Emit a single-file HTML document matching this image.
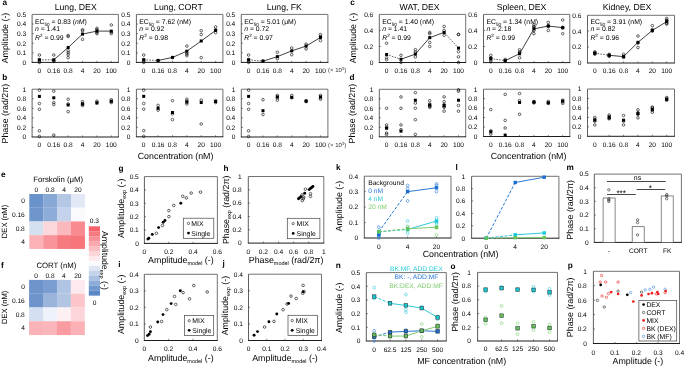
<!DOCTYPE html><html><head><meta charset="utf-8"><style>html,body{margin:0;padding:0;background:#fff;}svg{display:block;will-change:transform;}text{font-family:"Liberation Sans", sans-serif;text-rendering:geometricPrecision;}</style></head><body>
<svg width="685" height="366" viewBox="0 0 685 366">
<rect width="685" height="366" fill="#fff"/>
<line x1="32.10" y1="14.40" x2="118.40" y2="14.40" stroke="#6a6a6a" stroke-width="0.95" />
<line x1="118.40" y1="14.40" x2="118.40" y2="62.40" stroke="#6a6a6a" stroke-width="0.95" />
<line x1="32.10" y1="14.40" x2="32.10" y2="62.40" stroke="#5a5a5a" stroke-width="0.95" />
<line x1="31.65" y1="62.40" x2="118.85" y2="62.40" stroke="#111" stroke-width="0.95" />
<line x1="32.10" y1="52.80" x2="33.70" y2="52.80" stroke="#333" stroke-width="0.6" />
<line x1="32.10" y1="43.20" x2="33.70" y2="43.20" stroke="#333" stroke-width="0.6" />
<line x1="32.10" y1="33.60" x2="33.70" y2="33.60" stroke="#333" stroke-width="0.6" />
<line x1="32.10" y1="24.00" x2="33.70" y2="24.00" stroke="#333" stroke-width="0.6" />
<text x="26.10" y="64.74" font-size="6.6" text-anchor="end" fill="#000" >0</text>
<text x="26.10" y="55.14" font-size="6.6" text-anchor="end" fill="#000" >0.1</text>
<text x="26.10" y="45.54" font-size="6.6" text-anchor="end" fill="#000" >0.2</text>
<text x="26.10" y="35.94" font-size="6.6" text-anchor="end" fill="#000" >0.3</text>
<text x="26.10" y="26.34" font-size="6.6" text-anchor="end" fill="#000" >0.4</text>
<text x="26.10" y="16.74" font-size="6.6" text-anchor="end" fill="#000" >0.5</text>
<line x1="53.78" y1="62.40" x2="53.78" y2="60.80" stroke="#333" stroke-width="0.6" />
<line x1="68.16" y1="62.40" x2="68.16" y2="60.80" stroke="#333" stroke-width="0.6" />
<line x1="82.54" y1="62.40" x2="82.54" y2="60.80" stroke="#333" stroke-width="0.6" />
<line x1="96.92" y1="62.40" x2="96.92" y2="60.80" stroke="#333" stroke-width="0.6" />
<line x1="111.30" y1="62.40" x2="111.30" y2="60.80" stroke="#333" stroke-width="0.6" />
<text x="39.40" y="72.69" font-size="6.6" text-anchor="middle" fill="#000" >0</text>
<text x="53.78" y="72.69" font-size="6.6" text-anchor="middle" fill="#000" >0.16</text>
<text x="68.16" y="72.69" font-size="6.6" text-anchor="middle" fill="#000" >0.8</text>
<text x="82.54" y="72.69" font-size="6.6" text-anchor="middle" fill="#000" >4</text>
<text x="96.92" y="72.69" font-size="6.6" text-anchor="middle" fill="#000" >20</text>
<text x="111.30" y="72.69" font-size="6.6" text-anchor="middle" fill="#000" >100</text>
<text x="75.70" y="9.90" font-size="8.7" text-anchor="middle" fill="#000" >Lung, DEX</text>
<text x="35.00" y="23.6" font-size="6.85">EC<tspan font-size="4.6" dy="2.0">50</tspan><tspan dy="-2.0"> = 0.83 (<tspan font-style="italic">nM</tspan>)</tspan></text>
<text x="35.00" y="31.4" font-size="6.85"><tspan font-style="italic">n</tspan> = 1.41</text>
<text x="35.00" y="39.8" font-size="6.85"><tspan font-style="italic">R</tspan><tspan font-size="4.6" dy="-2.4">2</tspan><tspan dy="2.4"> = 0.99</tspan></text>
<line x1="39.40" y1="59.81" x2="53.78" y2="59.81" stroke="#222" stroke-width="0.7" stroke-dasharray="1.6,1.2" />
<line x1="53.78" y1="59.81" x2="68.16" y2="47.52" stroke="#111" stroke-width="0.8" />
<line x1="68.16" y1="47.52" x2="82.54" y2="34.08" stroke="#111" stroke-width="0.8" />
<line x1="82.54" y1="34.08" x2="96.92" y2="31.10" stroke="#111" stroke-width="0.8" />
<line x1="96.92" y1="31.10" x2="111.30" y2="31.10" stroke="#111" stroke-width="0.8" />
<circle cx="39.40" cy="55.01" r="1.3" fill="none" stroke="#000" stroke-width="0.6"/>
<circle cx="39.40" cy="59.52" r="1.3" fill="none" stroke="#000" stroke-width="0.6"/>
<circle cx="39.40" cy="61.44" r="1.3" fill="none" stroke="#000" stroke-width="0.6"/>
<circle cx="39.40" cy="62.40" r="1.3" fill="none" stroke="#000" stroke-width="0.6"/>
<rect x="37.90" y="58.31" width="3.0" height="3.0" fill="#000"/>
<circle cx="53.78" cy="55.01" r="1.3" fill="none" stroke="#000" stroke-width="0.6"/>
<circle cx="53.78" cy="60.48" r="1.3" fill="none" stroke="#000" stroke-width="0.6"/>
<circle cx="53.78" cy="61.44" r="1.3" fill="none" stroke="#000" stroke-width="0.6"/>
<rect x="52.28" y="58.31" width="3.0" height="3.0" fill="#000"/>
<circle cx="68.16" cy="35.52" r="1.3" fill="none" stroke="#000" stroke-width="0.6"/>
<circle cx="68.16" cy="36.48" r="1.3" fill="none" stroke="#000" stroke-width="0.6"/>
<circle cx="68.16" cy="50.88" r="1.3" fill="none" stroke="#000" stroke-width="0.6"/>
<circle cx="68.16" cy="52.80" r="1.3" fill="none" stroke="#000" stroke-width="0.6"/>
<circle cx="68.16" cy="54.72" r="1.3" fill="none" stroke="#000" stroke-width="0.6"/>
<circle cx="68.16" cy="57.60" r="1.3" fill="none" stroke="#000" stroke-width="0.6"/>
<rect x="66.66" y="46.02" width="3.0" height="3.0" fill="#000"/>
<circle cx="82.54" cy="29.76" r="1.3" fill="none" stroke="#000" stroke-width="0.6"/>
<circle cx="82.54" cy="30.72" r="1.3" fill="none" stroke="#000" stroke-width="0.6"/>
<circle cx="82.54" cy="39.36" r="1.3" fill="none" stroke="#000" stroke-width="0.6"/>
<rect x="81.04" y="32.58" width="3.0" height="3.0" fill="#000"/>
<circle cx="96.92" cy="28.32" r="1.3" fill="none" stroke="#000" stroke-width="0.6"/>
<circle cx="96.92" cy="29.76" r="1.3" fill="none" stroke="#000" stroke-width="0.6"/>
<circle cx="96.92" cy="32.64" r="1.3" fill="none" stroke="#000" stroke-width="0.6"/>
<circle cx="96.92" cy="33.60" r="1.3" fill="none" stroke="#000" stroke-width="0.6"/>
<rect x="95.42" y="29.60" width="3.0" height="3.0" fill="#000"/>
<circle cx="111.30" cy="24.96" r="1.3" fill="none" stroke="#000" stroke-width="0.6"/>
<circle cx="111.30" cy="32.16" r="1.3" fill="none" stroke="#000" stroke-width="0.6"/>
<circle cx="111.30" cy="33.60" r="1.3" fill="none" stroke="#000" stroke-width="0.6"/>
<rect x="109.80" y="29.60" width="3.0" height="3.0" fill="#000"/>
<line x1="136.40" y1="14.40" x2="222.90" y2="14.40" stroke="#6a6a6a" stroke-width="0.95" />
<line x1="222.90" y1="14.40" x2="222.90" y2="62.40" stroke="#6a6a6a" stroke-width="0.95" />
<line x1="136.40" y1="14.40" x2="136.40" y2="62.40" stroke="#5a5a5a" stroke-width="0.95" />
<line x1="135.95" y1="62.40" x2="223.35" y2="62.40" stroke="#111" stroke-width="0.95" />
<line x1="136.40" y1="52.80" x2="138.00" y2="52.80" stroke="#333" stroke-width="0.6" />
<line x1="136.40" y1="43.20" x2="138.00" y2="43.20" stroke="#333" stroke-width="0.6" />
<line x1="136.40" y1="33.60" x2="138.00" y2="33.60" stroke="#333" stroke-width="0.6" />
<line x1="136.40" y1="24.00" x2="138.00" y2="24.00" stroke="#333" stroke-width="0.6" />
<text x="130.40" y="64.74" font-size="6.6" text-anchor="end" fill="#000" >0</text>
<text x="130.40" y="55.14" font-size="6.6" text-anchor="end" fill="#000" >0.1</text>
<text x="130.40" y="45.54" font-size="6.6" text-anchor="end" fill="#000" >0.2</text>
<text x="130.40" y="35.94" font-size="6.6" text-anchor="end" fill="#000" >0.3</text>
<text x="130.40" y="26.34" font-size="6.6" text-anchor="end" fill="#000" >0.4</text>
<text x="130.40" y="16.74" font-size="6.6" text-anchor="end" fill="#000" >0.5</text>
<line x1="158.08" y1="62.40" x2="158.08" y2="60.80" stroke="#333" stroke-width="0.6" />
<line x1="172.46" y1="62.40" x2="172.46" y2="60.80" stroke="#333" stroke-width="0.6" />
<line x1="186.84" y1="62.40" x2="186.84" y2="60.80" stroke="#333" stroke-width="0.6" />
<line x1="201.22" y1="62.40" x2="201.22" y2="60.80" stroke="#333" stroke-width="0.6" />
<line x1="215.60" y1="62.40" x2="215.60" y2="60.80" stroke="#333" stroke-width="0.6" />
<text x="143.70" y="72.69" font-size="6.6" text-anchor="middle" fill="#000" >0</text>
<text x="158.08" y="72.69" font-size="6.6" text-anchor="middle" fill="#000" >0.16</text>
<text x="172.46" y="72.69" font-size="6.6" text-anchor="middle" fill="#000" >0.8</text>
<text x="186.84" y="72.69" font-size="6.6" text-anchor="middle" fill="#000" >4</text>
<text x="201.22" y="72.69" font-size="6.6" text-anchor="middle" fill="#000" >20</text>
<text x="215.60" y="72.69" font-size="6.6" text-anchor="middle" fill="#000" >100</text>
<text x="178.40" y="9.90" font-size="8.7" text-anchor="middle" fill="#000" >Lung, CORT</text>
<text x="139.30" y="23.6" font-size="6.85">EC<tspan font-size="4.6" dy="2.0">50</tspan><tspan dy="-2.0"> = 7.62 (nM)</tspan></text>
<text x="139.30" y="31.4" font-size="6.85"><tspan font-style="italic">n</tspan> = 0.92</text>
<text x="139.30" y="39.8" font-size="6.85"><tspan font-style="italic">R</tspan><tspan font-size="4.6" dy="-2.4">2</tspan><tspan dy="2.4"> = 0.98</tspan></text>
<line x1="143.70" y1="59.81" x2="158.08" y2="60.48" stroke="#222" stroke-width="0.7" stroke-dasharray="1.6,1.2" />
<line x1="158.08" y1="60.48" x2="172.46" y2="57.41" stroke="#111" stroke-width="0.8" />
<line x1="172.46" y1="57.41" x2="186.84" y2="51.17" stroke="#111" stroke-width="0.8" />
<line x1="186.84" y1="51.17" x2="201.22" y2="40.99" stroke="#111" stroke-width="0.8" />
<line x1="201.22" y1="40.99" x2="215.60" y2="30.43" stroke="#111" stroke-width="0.8" />
<circle cx="143.70" cy="55.01" r="1.3" fill="none" stroke="#000" stroke-width="0.6"/>
<circle cx="143.70" cy="59.52" r="1.3" fill="none" stroke="#000" stroke-width="0.6"/>
<circle cx="143.70" cy="61.44" r="1.3" fill="none" stroke="#000" stroke-width="0.6"/>
<circle cx="143.70" cy="62.40" r="1.3" fill="none" stroke="#000" stroke-width="0.6"/>
<rect x="142.20" y="58.31" width="3.0" height="3.0" fill="#000"/>
<circle cx="158.08" cy="60.48" r="1.3" fill="none" stroke="#000" stroke-width="0.6"/>
<rect x="156.58" y="58.98" width="3.0" height="3.0" fill="#000"/>
<circle cx="172.46" cy="57.60" r="1.3" fill="none" stroke="#000" stroke-width="0.6"/>
<rect x="170.96" y="55.91" width="3.0" height="3.0" fill="#000"/>
<circle cx="186.84" cy="46.08" r="1.3" fill="none" stroke="#000" stroke-width="0.6"/>
<circle cx="186.84" cy="52.80" r="1.3" fill="none" stroke="#000" stroke-width="0.6"/>
<circle cx="186.84" cy="54.24" r="1.3" fill="none" stroke="#000" stroke-width="0.6"/>
<circle cx="186.84" cy="55.68" r="1.3" fill="none" stroke="#000" stroke-width="0.6"/>
<rect x="185.34" y="49.67" width="3.0" height="3.0" fill="#000"/>
<circle cx="201.22" cy="30.72" r="1.3" fill="none" stroke="#000" stroke-width="0.6"/>
<circle cx="201.22" cy="34.56" r="1.3" fill="none" stroke="#000" stroke-width="0.6"/>
<circle cx="201.22" cy="57.60" r="1.3" fill="none" stroke="#000" stroke-width="0.6"/>
<rect x="199.72" y="39.49" width="3.0" height="3.0" fill="#000"/>
<circle cx="215.60" cy="26.88" r="1.3" fill="none" stroke="#000" stroke-width="0.6"/>
<circle cx="215.60" cy="29.76" r="1.3" fill="none" stroke="#000" stroke-width="0.6"/>
<circle cx="215.60" cy="32.64" r="1.3" fill="none" stroke="#000" stroke-width="0.6"/>
<rect x="214.10" y="28.93" width="3.0" height="3.0" fill="#000"/>
<line x1="241.30" y1="14.40" x2="327.90" y2="14.40" stroke="#6a6a6a" stroke-width="0.95" />
<line x1="327.90" y1="14.40" x2="327.90" y2="62.40" stroke="#6a6a6a" stroke-width="0.95" />
<line x1="241.30" y1="14.40" x2="241.30" y2="62.40" stroke="#5a5a5a" stroke-width="0.95" />
<line x1="240.85" y1="62.40" x2="328.35" y2="62.40" stroke="#111" stroke-width="0.95" />
<line x1="241.30" y1="52.80" x2="242.90" y2="52.80" stroke="#333" stroke-width="0.6" />
<line x1="241.30" y1="43.20" x2="242.90" y2="43.20" stroke="#333" stroke-width="0.6" />
<line x1="241.30" y1="33.60" x2="242.90" y2="33.60" stroke="#333" stroke-width="0.6" />
<line x1="241.30" y1="24.00" x2="242.90" y2="24.00" stroke="#333" stroke-width="0.6" />
<text x="235.30" y="64.74" font-size="6.6" text-anchor="end" fill="#000" >0</text>
<text x="235.30" y="55.14" font-size="6.6" text-anchor="end" fill="#000" >0.1</text>
<text x="235.30" y="45.54" font-size="6.6" text-anchor="end" fill="#000" >0.2</text>
<text x="235.30" y="35.94" font-size="6.6" text-anchor="end" fill="#000" >0.3</text>
<text x="235.30" y="26.34" font-size="6.6" text-anchor="end" fill="#000" >0.4</text>
<text x="235.30" y="16.74" font-size="6.6" text-anchor="end" fill="#000" >0.5</text>
<line x1="262.98" y1="62.40" x2="262.98" y2="60.80" stroke="#333" stroke-width="0.6" />
<line x1="277.36" y1="62.40" x2="277.36" y2="60.80" stroke="#333" stroke-width="0.6" />
<line x1="291.74" y1="62.40" x2="291.74" y2="60.80" stroke="#333" stroke-width="0.6" />
<line x1="306.12" y1="62.40" x2="306.12" y2="60.80" stroke="#333" stroke-width="0.6" />
<line x1="320.50" y1="62.40" x2="320.50" y2="60.80" stroke="#333" stroke-width="0.6" />
<text x="248.60" y="72.69" font-size="6.6" text-anchor="middle" fill="#000" >0</text>
<text x="262.98" y="72.69" font-size="6.6" text-anchor="middle" fill="#000" >0.16</text>
<text x="277.36" y="72.69" font-size="6.6" text-anchor="middle" fill="#000" >0.8</text>
<text x="291.74" y="72.69" font-size="6.6" text-anchor="middle" fill="#000" >4</text>
<text x="306.12" y="72.69" font-size="6.6" text-anchor="middle" fill="#000" >20</text>
<text x="320.50" y="72.69" font-size="6.6" text-anchor="middle" fill="#000" >100</text>
<text x="284.30" y="9.90" font-size="8.7" text-anchor="middle" fill="#000" >Lung, FK</text>
<text x="244.20" y="23.6" font-size="6.85">EC<tspan font-size="4.6" dy="2.0">50</tspan><tspan dy="-2.0"> = 5.01 (&#956;M)</tspan></text>
<text x="244.20" y="31.4" font-size="6.85"><tspan font-style="italic">n</tspan> = 0.72</text>
<text x="244.20" y="39.8" font-size="6.85"><tspan font-style="italic">R</tspan><tspan font-size="4.6" dy="-2.4">2</tspan><tspan dy="2.4"> = 0.97</tspan></text>
<line x1="248.60" y1="59.81" x2="262.98" y2="61.15" stroke="#222" stroke-width="0.7" stroke-dasharray="1.6,1.2" />
<line x1="262.98" y1="61.15" x2="277.36" y2="56.64" stroke="#111" stroke-width="0.8" />
<line x1="277.36" y1="56.64" x2="291.74" y2="50.88" stroke="#111" stroke-width="0.8" />
<line x1="291.74" y1="50.88" x2="306.12" y2="46.08" stroke="#111" stroke-width="0.8" />
<line x1="306.12" y1="46.08" x2="320.50" y2="37.44" stroke="#111" stroke-width="0.8" />
<circle cx="248.60" cy="55.01" r="1.3" fill="none" stroke="#000" stroke-width="0.6"/>
<circle cx="248.60" cy="59.52" r="1.3" fill="none" stroke="#000" stroke-width="0.6"/>
<circle cx="248.60" cy="61.44" r="1.3" fill="none" stroke="#000" stroke-width="0.6"/>
<circle cx="248.60" cy="62.40" r="1.3" fill="none" stroke="#000" stroke-width="0.6"/>
<rect x="247.10" y="58.31" width="3.0" height="3.0" fill="#000"/>
<circle cx="262.98" cy="60.96" r="1.3" fill="none" stroke="#000" stroke-width="0.6"/>
<rect x="261.48" y="59.65" width="3.0" height="3.0" fill="#000"/>
<circle cx="277.36" cy="52.32" r="1.3" fill="none" stroke="#000" stroke-width="0.6"/>
<circle cx="277.36" cy="58.56" r="1.3" fill="none" stroke="#000" stroke-width="0.6"/>
<rect x="275.86" y="55.14" width="3.0" height="3.0" fill="#000"/>
<circle cx="291.74" cy="48.00" r="1.3" fill="none" stroke="#000" stroke-width="0.6"/>
<circle cx="291.74" cy="54.72" r="1.3" fill="none" stroke="#000" stroke-width="0.6"/>
<rect x="290.24" y="49.38" width="3.0" height="3.0" fill="#000"/>
<circle cx="306.12" cy="44.16" r="1.3" fill="none" stroke="#000" stroke-width="0.6"/>
<circle cx="306.12" cy="48.96" r="1.3" fill="none" stroke="#000" stroke-width="0.6"/>
<rect x="304.62" y="44.58" width="3.0" height="3.0" fill="#000"/>
<circle cx="320.50" cy="34.56" r="1.3" fill="none" stroke="#000" stroke-width="0.6"/>
<circle cx="320.50" cy="36.48" r="1.3" fill="none" stroke="#000" stroke-width="0.6"/>
<circle cx="320.50" cy="40.61" r="1.3" fill="none" stroke="#000" stroke-width="0.6"/>
<rect x="319.00" y="35.94" width="3.0" height="3.0" fill="#000"/>
<line x1="379.30" y1="14.40" x2="465.70" y2="14.40" stroke="#6a6a6a" stroke-width="0.95" />
<line x1="465.70" y1="14.40" x2="465.70" y2="62.50" stroke="#6a6a6a" stroke-width="0.95" />
<line x1="379.30" y1="14.40" x2="379.30" y2="62.50" stroke="#5a5a5a" stroke-width="0.95" />
<line x1="378.85" y1="62.50" x2="466.15" y2="62.50" stroke="#111" stroke-width="0.95" />
<line x1="379.30" y1="46.47" x2="380.90" y2="46.47" stroke="#333" stroke-width="0.6" />
<line x1="379.30" y1="30.43" x2="380.90" y2="30.43" stroke="#333" stroke-width="0.6" />
<text x="373.30" y="64.84" font-size="6.6" text-anchor="end" fill="#000" >0</text>
<text x="373.30" y="48.81" font-size="6.6" text-anchor="end" fill="#000" >0.2</text>
<text x="373.30" y="32.78" font-size="6.6" text-anchor="end" fill="#000" >0.4</text>
<text x="373.30" y="16.74" font-size="6.6" text-anchor="end" fill="#000" >0.6</text>
<line x1="400.98" y1="62.50" x2="400.98" y2="60.90" stroke="#333" stroke-width="0.6" />
<line x1="415.36" y1="62.50" x2="415.36" y2="60.90" stroke="#333" stroke-width="0.6" />
<line x1="429.74" y1="62.50" x2="429.74" y2="60.90" stroke="#333" stroke-width="0.6" />
<line x1="444.12" y1="62.50" x2="444.12" y2="60.90" stroke="#333" stroke-width="0.6" />
<line x1="458.50" y1="62.50" x2="458.50" y2="60.90" stroke="#333" stroke-width="0.6" />
<text x="386.60" y="72.79" font-size="6.6" text-anchor="middle" fill="#000" >0</text>
<text x="400.98" y="72.79" font-size="6.6" text-anchor="middle" fill="#000" >0.16</text>
<text x="415.36" y="72.79" font-size="6.6" text-anchor="middle" fill="#000" >0.8</text>
<text x="429.74" y="72.79" font-size="6.6" text-anchor="middle" fill="#000" >4</text>
<text x="444.12" y="72.79" font-size="6.6" text-anchor="middle" fill="#000" >20</text>
<text x="458.50" y="72.79" font-size="6.6" text-anchor="middle" fill="#000" >100</text>
<text x="419.60" y="9.90" font-size="8.7" text-anchor="middle" fill="#000" >WAT, DEX</text>
<text x="382.20" y="23.6" font-size="6.85">EC<tspan font-size="4.6" dy="2.0">50</tspan><tspan dy="-2.0"> = 1.40 (nM)</tspan></text>
<text x="382.20" y="31.4" font-size="6.85"><tspan font-style="italic">n</tspan> = 1.41</text>
<text x="382.20" y="39.8" font-size="6.85"><tspan font-style="italic">R</tspan><tspan font-size="4.6" dy="-2.4">2</tspan><tspan dy="2.4"> = 0.99</tspan></text>
<line x1="386.60" y1="54.48" x2="400.98" y2="59.29" stroke="#222" stroke-width="0.7" stroke-dasharray="1.6,1.2" />
<line x1="400.98" y1="59.29" x2="415.36" y2="54.08" stroke="#111" stroke-width="0.8" />
<line x1="415.36" y1="54.08" x2="429.74" y2="37.65" stroke="#111" stroke-width="0.8" />
<line x1="429.74" y1="37.65" x2="444.12" y2="32.44" stroke="#111" stroke-width="0.8" />
<line x1="444.12" y1="32.44" x2="458.50" y2="48.07" stroke="#222" stroke-width="0.7" stroke-dasharray="1.6,1.2" />
<circle cx="386.60" cy="43.26" r="1.3" fill="none" stroke="#000" stroke-width="0.6"/>
<circle cx="386.60" cy="57.69" r="1.3" fill="none" stroke="#000" stroke-width="0.6"/>
<circle cx="386.60" cy="59.69" r="1.3" fill="none" stroke="#000" stroke-width="0.6"/>
<rect x="385.10" y="52.98" width="3.0" height="3.0" fill="#000"/>
<circle cx="400.98" cy="55.28" r="1.3" fill="none" stroke="#000" stroke-width="0.6"/>
<circle cx="400.98" cy="62.50" r="1.3" fill="none" stroke="#000" stroke-width="0.6"/>
<rect x="399.48" y="57.79" width="3.0" height="3.0" fill="#000"/>
<circle cx="415.36" cy="49.67" r="1.3" fill="none" stroke="#000" stroke-width="0.6"/>
<circle cx="415.36" cy="52.08" r="1.3" fill="none" stroke="#000" stroke-width="0.6"/>
<circle cx="415.36" cy="56.89" r="1.3" fill="none" stroke="#000" stroke-width="0.6"/>
<rect x="413.86" y="52.58" width="3.0" height="3.0" fill="#000"/>
<circle cx="429.74" cy="32.44" r="1.3" fill="none" stroke="#000" stroke-width="0.6"/>
<circle cx="429.74" cy="33.64" r="1.3" fill="none" stroke="#000" stroke-width="0.6"/>
<circle cx="429.74" cy="42.46" r="1.3" fill="none" stroke="#000" stroke-width="0.6"/>
<circle cx="429.74" cy="46.47" r="1.3" fill="none" stroke="#000" stroke-width="0.6"/>
<rect x="428.24" y="36.15" width="3.0" height="3.0" fill="#000"/>
<circle cx="444.12" cy="26.42" r="1.3" fill="none" stroke="#000" stroke-width="0.6"/>
<circle cx="444.12" cy="30.43" r="1.3" fill="none" stroke="#000" stroke-width="0.6"/>
<circle cx="444.12" cy="35.24" r="1.3" fill="none" stroke="#000" stroke-width="0.6"/>
<rect x="442.62" y="30.94" width="3.0" height="3.0" fill="#000"/>
<circle cx="458.50" cy="34.44" r="1.3" fill="none" stroke="#000" stroke-width="0.6"/>
<circle cx="458.50" cy="34.44" r="1.3" fill="none" stroke="#000" stroke-width="0.6"/>
<circle cx="458.50" cy="51.68" r="1.3" fill="none" stroke="#000" stroke-width="0.6"/>
<circle cx="458.50" cy="56.89" r="1.3" fill="none" stroke="#000" stroke-width="0.6"/>
<circle cx="458.50" cy="62.50" r="1.3" fill="none" stroke="#000" stroke-width="0.6"/>
<rect x="457.00" y="46.57" width="3.0" height="3.0" fill="#000"/>
<line x1="483.50" y1="14.40" x2="569.80" y2="14.40" stroke="#6a6a6a" stroke-width="0.95" />
<line x1="569.80" y1="14.40" x2="569.80" y2="62.60" stroke="#6a6a6a" stroke-width="0.95" />
<line x1="483.50" y1="14.40" x2="483.50" y2="62.60" stroke="#5a5a5a" stroke-width="0.95" />
<line x1="483.05" y1="62.60" x2="570.25" y2="62.60" stroke="#111" stroke-width="0.95" />
<line x1="483.50" y1="46.53" x2="485.10" y2="46.53" stroke="#333" stroke-width="0.6" />
<line x1="483.50" y1="30.47" x2="485.10" y2="30.47" stroke="#333" stroke-width="0.6" />
<text x="477.50" y="64.94" font-size="6.6" text-anchor="end" fill="#000" >0</text>
<text x="477.50" y="48.88" font-size="6.6" text-anchor="end" fill="#000" >0.2</text>
<text x="477.50" y="32.81" font-size="6.6" text-anchor="end" fill="#000" >0.4</text>
<text x="477.50" y="16.74" font-size="6.6" text-anchor="end" fill="#000" >0.6</text>
<line x1="505.18" y1="62.60" x2="505.18" y2="61.00" stroke="#333" stroke-width="0.6" />
<line x1="519.56" y1="62.60" x2="519.56" y2="61.00" stroke="#333" stroke-width="0.6" />
<line x1="533.94" y1="62.60" x2="533.94" y2="61.00" stroke="#333" stroke-width="0.6" />
<line x1="548.32" y1="62.60" x2="548.32" y2="61.00" stroke="#333" stroke-width="0.6" />
<line x1="562.70" y1="62.60" x2="562.70" y2="61.00" stroke="#333" stroke-width="0.6" />
<text x="490.80" y="72.89" font-size="6.6" text-anchor="middle" fill="#000" >0</text>
<text x="505.18" y="72.89" font-size="6.6" text-anchor="middle" fill="#000" >0.16</text>
<text x="519.56" y="72.89" font-size="6.6" text-anchor="middle" fill="#000" >0.8</text>
<text x="533.94" y="72.89" font-size="6.6" text-anchor="middle" fill="#000" >4</text>
<text x="548.32" y="72.89" font-size="6.6" text-anchor="middle" fill="#000" >20</text>
<text x="562.70" y="72.89" font-size="6.6" text-anchor="middle" fill="#000" >100</text>
<text x="521.50" y="9.90" font-size="8.7" text-anchor="middle" fill="#000" >Spleen, DEX</text>
<text x="486.40" y="23.6" font-size="6.85">EC<tspan font-size="4.6" dy="2.0">50</tspan><tspan dy="-2.0"> = 1.34 (nM)</tspan></text>
<text x="486.40" y="31.4" font-size="6.85"><tspan font-style="italic">n</tspan> = 2.18</text>
<text x="486.40" y="39.8" font-size="6.85"><tspan font-style="italic">R</tspan><tspan font-size="4.6" dy="-2.4">2</tspan><tspan dy="2.4"> = 0.99</tspan></text>
<line x1="490.80" y1="58.58" x2="505.18" y2="60.59" stroke="#222" stroke-width="0.7" stroke-dasharray="1.6,1.2" />
<line x1="505.18" y1="60.59" x2="519.56" y2="53.76" stroke="#111" stroke-width="0.8" />
<line x1="519.56" y1="53.76" x2="533.94" y2="28.86" stroke="#111" stroke-width="0.8" />
<line x1="533.94" y1="28.86" x2="548.32" y2="26.05" stroke="#111" stroke-width="0.8" />
<line x1="548.32" y1="26.05" x2="562.70" y2="27.66" stroke="#111" stroke-width="0.8" />
<circle cx="490.80" cy="55.37" r="1.3" fill="none" stroke="#000" stroke-width="0.6"/>
<circle cx="490.80" cy="60.19" r="1.3" fill="none" stroke="#000" stroke-width="0.6"/>
<circle cx="490.80" cy="61.80" r="1.3" fill="none" stroke="#000" stroke-width="0.6"/>
<circle cx="490.80" cy="57.78" r="1.3" fill="none" stroke="#000" stroke-width="0.6"/>
<rect x="489.30" y="57.08" width="3.0" height="3.0" fill="#000"/>
<circle cx="505.18" cy="59.39" r="1.3" fill="none" stroke="#000" stroke-width="0.6"/>
<circle cx="505.18" cy="60.99" r="1.3" fill="none" stroke="#000" stroke-width="0.6"/>
<rect x="503.68" y="59.09" width="3.0" height="3.0" fill="#000"/>
<circle cx="519.56" cy="49.75" r="1.3" fill="none" stroke="#000" stroke-width="0.6"/>
<circle cx="519.56" cy="52.16" r="1.3" fill="none" stroke="#000" stroke-width="0.6"/>
<circle cx="519.56" cy="57.78" r="1.3" fill="none" stroke="#000" stroke-width="0.6"/>
<circle cx="519.56" cy="52.96" r="1.3" fill="none" stroke="#000" stroke-width="0.6"/>
<rect x="518.06" y="52.26" width="3.0" height="3.0" fill="#000"/>
<circle cx="533.94" cy="24.84" r="1.3" fill="none" stroke="#000" stroke-width="0.6"/>
<circle cx="533.94" cy="26.45" r="1.3" fill="none" stroke="#000" stroke-width="0.6"/>
<circle cx="533.94" cy="33.68" r="1.3" fill="none" stroke="#000" stroke-width="0.6"/>
<circle cx="533.94" cy="27.25" r="1.3" fill="none" stroke="#000" stroke-width="0.6"/>
<circle cx="533.94" cy="30.47" r="1.3" fill="none" stroke="#000" stroke-width="0.6"/>
<rect x="532.44" y="27.36" width="3.0" height="3.0" fill="#000"/>
<circle cx="548.32" cy="22.43" r="1.3" fill="none" stroke="#000" stroke-width="0.6"/>
<circle cx="548.32" cy="30.47" r="1.3" fill="none" stroke="#000" stroke-width="0.6"/>
<circle cx="548.32" cy="25.65" r="1.3" fill="none" stroke="#000" stroke-width="0.6"/>
<circle cx="548.32" cy="26.45" r="1.3" fill="none" stroke="#000" stroke-width="0.6"/>
<rect x="546.82" y="24.55" width="3.0" height="3.0" fill="#000"/>
<circle cx="562.70" cy="20.02" r="1.3" fill="none" stroke="#000" stroke-width="0.6"/>
<circle cx="562.70" cy="33.68" r="1.3" fill="none" stroke="#000" stroke-width="0.6"/>
<circle cx="562.70" cy="27.25" r="1.3" fill="none" stroke="#000" stroke-width="0.6"/>
<circle cx="562.70" cy="28.06" r="1.3" fill="none" stroke="#000" stroke-width="0.6"/>
<rect x="561.20" y="26.16" width="3.0" height="3.0" fill="#000"/>
<line x1="587.50" y1="15.30" x2="674.50" y2="15.30" stroke="#6a6a6a" stroke-width="0.95" />
<line x1="674.50" y1="15.30" x2="674.50" y2="63.00" stroke="#6a6a6a" stroke-width="0.95" />
<line x1="587.50" y1="15.30" x2="587.50" y2="63.00" stroke="#5a5a5a" stroke-width="0.95" />
<line x1="587.05" y1="63.00" x2="674.95" y2="63.00" stroke="#111" stroke-width="0.95" />
<line x1="587.50" y1="47.10" x2="589.10" y2="47.10" stroke="#333" stroke-width="0.6" />
<line x1="587.50" y1="31.20" x2="589.10" y2="31.20" stroke="#333" stroke-width="0.6" />
<text x="581.50" y="65.34" font-size="6.6" text-anchor="end" fill="#000" >0</text>
<text x="581.50" y="49.44" font-size="6.6" text-anchor="end" fill="#000" >0.2</text>
<text x="581.50" y="33.54" font-size="6.6" text-anchor="end" fill="#000" >0.4</text>
<text x="581.50" y="17.64" font-size="6.6" text-anchor="end" fill="#000" >0.6</text>
<line x1="609.18" y1="63.00" x2="609.18" y2="61.40" stroke="#333" stroke-width="0.6" />
<line x1="623.56" y1="63.00" x2="623.56" y2="61.40" stroke="#333" stroke-width="0.6" />
<line x1="637.94" y1="63.00" x2="637.94" y2="61.40" stroke="#333" stroke-width="0.6" />
<line x1="652.32" y1="63.00" x2="652.32" y2="61.40" stroke="#333" stroke-width="0.6" />
<line x1="666.70" y1="63.00" x2="666.70" y2="61.40" stroke="#333" stroke-width="0.6" />
<text x="594.80" y="73.29" font-size="6.6" text-anchor="middle" fill="#000" >0</text>
<text x="609.18" y="73.29" font-size="6.6" text-anchor="middle" fill="#000" >0.16</text>
<text x="623.56" y="73.29" font-size="6.6" text-anchor="middle" fill="#000" >0.8</text>
<text x="637.94" y="73.29" font-size="6.6" text-anchor="middle" fill="#000" >4</text>
<text x="652.32" y="73.29" font-size="6.6" text-anchor="middle" fill="#000" >20</text>
<text x="666.70" y="73.29" font-size="6.6" text-anchor="middle" fill="#000" >100</text>
<text x="627.00" y="9.90" font-size="8.7" text-anchor="middle" fill="#000" >Kidney, DEX</text>
<text x="590.40" y="23.6" font-size="6.85">EC<tspan font-size="4.6" dy="2.0">50</tspan><tspan dy="-2.0"> = 3.91 (nM)</tspan></text>
<text x="590.40" y="31.4" font-size="6.85"><tspan font-style="italic">n</tspan> = 0.82</text>
<text x="590.40" y="39.8" font-size="6.85"><tspan font-style="italic">R</tspan><tspan font-size="4.6" dy="-2.4">2</tspan><tspan dy="2.4"> = 0.96</tspan></text>
<line x1="594.80" y1="53.22" x2="609.18" y2="55.29" stroke="#222" stroke-width="0.7" stroke-dasharray="1.6,1.2" />
<line x1="609.18" y1="55.29" x2="623.56" y2="56.64" stroke="#111" stroke-width="0.8" />
<line x1="623.56" y1="56.64" x2="637.94" y2="42.33" stroke="#111" stroke-width="0.8" />
<line x1="637.94" y1="42.33" x2="652.32" y2="30.40" stroke="#111" stroke-width="0.8" />
<line x1="652.32" y1="30.40" x2="666.70" y2="21.66" stroke="#111" stroke-width="0.8" />
<circle cx="594.80" cy="51.87" r="1.3" fill="none" stroke="#000" stroke-width="0.6"/>
<circle cx="594.80" cy="54.25" r="1.3" fill="none" stroke="#000" stroke-width="0.6"/>
<circle cx="594.80" cy="52.66" r="1.3" fill="none" stroke="#000" stroke-width="0.6"/>
<circle cx="594.80" cy="53.46" r="1.3" fill="none" stroke="#000" stroke-width="0.6"/>
<rect x="593.30" y="51.72" width="3.0" height="3.0" fill="#000"/>
<circle cx="609.18" cy="54.25" r="1.3" fill="none" stroke="#000" stroke-width="0.6"/>
<circle cx="609.18" cy="56.24" r="1.3" fill="none" stroke="#000" stroke-width="0.6"/>
<circle cx="609.18" cy="55.84" r="1.3" fill="none" stroke="#000" stroke-width="0.6"/>
<circle cx="609.18" cy="55.05" r="1.3" fill="none" stroke="#000" stroke-width="0.6"/>
<rect x="607.68" y="53.79" width="3.0" height="3.0" fill="#000"/>
<circle cx="623.56" cy="54.25" r="1.3" fill="none" stroke="#000" stroke-width="0.6"/>
<circle cx="623.56" cy="57.44" r="1.3" fill="none" stroke="#000" stroke-width="0.6"/>
<circle cx="623.56" cy="56.24" r="1.3" fill="none" stroke="#000" stroke-width="0.6"/>
<rect x="622.06" y="55.14" width="3.0" height="3.0" fill="#000"/>
<circle cx="637.94" cy="35.97" r="1.3" fill="none" stroke="#000" stroke-width="0.6"/>
<circle cx="637.94" cy="47.50" r="1.3" fill="none" stroke="#000" stroke-width="0.6"/>
<circle cx="637.94" cy="43.12" r="1.3" fill="none" stroke="#000" stroke-width="0.6"/>
<rect x="636.44" y="40.83" width="3.0" height="3.0" fill="#000"/>
<circle cx="652.32" cy="25.63" r="1.3" fill="none" stroke="#000" stroke-width="0.6"/>
<circle cx="652.32" cy="31.20" r="1.3" fill="none" stroke="#000" stroke-width="0.6"/>
<circle cx="652.32" cy="29.61" r="1.3" fill="none" stroke="#000" stroke-width="0.6"/>
<rect x="650.82" y="28.90" width="3.0" height="3.0" fill="#000"/>
<circle cx="666.70" cy="18.48" r="1.3" fill="none" stroke="#000" stroke-width="0.6"/>
<circle cx="666.70" cy="20.86" r="1.3" fill="none" stroke="#000" stroke-width="0.6"/>
<circle cx="666.70" cy="24.05" r="1.3" fill="none" stroke="#000" stroke-width="0.6"/>
<circle cx="666.70" cy="23.25" r="1.3" fill="none" stroke="#000" stroke-width="0.6"/>
<circle cx="666.70" cy="20.07" r="1.3" fill="none" stroke="#000" stroke-width="0.6"/>
<rect x="665.20" y="20.16" width="3.0" height="3.0" fill="#000"/>
<line x1="32.10" y1="89.20" x2="118.40" y2="89.20" stroke="#6a6a6a" stroke-width="0.95" />
<line x1="118.40" y1="89.20" x2="118.40" y2="137.00" stroke="#6a6a6a" stroke-width="0.95" />
<line x1="32.10" y1="89.20" x2="32.10" y2="137.00" stroke="#5a5a5a" stroke-width="0.95" />
<line x1="31.65" y1="137.00" x2="118.85" y2="137.00" stroke="#111" stroke-width="0.95" />
<line x1="32.10" y1="127.44" x2="33.70" y2="127.44" stroke="#333" stroke-width="0.6" />
<line x1="32.10" y1="117.88" x2="33.70" y2="117.88" stroke="#333" stroke-width="0.6" />
<line x1="32.10" y1="108.32" x2="33.70" y2="108.32" stroke="#333" stroke-width="0.6" />
<line x1="32.10" y1="98.76" x2="33.70" y2="98.76" stroke="#333" stroke-width="0.6" />
<text x="26.10" y="139.34" font-size="6.6" text-anchor="end" fill="#000" >0</text>
<text x="26.10" y="129.78" font-size="6.6" text-anchor="end" fill="#000" >0.2</text>
<text x="26.10" y="120.22" font-size="6.6" text-anchor="end" fill="#000" >0.4</text>
<text x="26.10" y="110.66" font-size="6.6" text-anchor="end" fill="#000" >0.6</text>
<text x="26.10" y="101.10" font-size="6.6" text-anchor="end" fill="#000" >0.8</text>
<text x="26.10" y="91.54" font-size="6.6" text-anchor="end" fill="#000" >1</text>
<line x1="53.78" y1="137.00" x2="53.78" y2="135.40" stroke="#333" stroke-width="0.6" />
<line x1="68.16" y1="137.00" x2="68.16" y2="135.40" stroke="#333" stroke-width="0.6" />
<line x1="82.54" y1="137.00" x2="82.54" y2="135.40" stroke="#333" stroke-width="0.6" />
<line x1="96.92" y1="137.00" x2="96.92" y2="135.40" stroke="#333" stroke-width="0.6" />
<line x1="111.30" y1="137.00" x2="111.30" y2="135.40" stroke="#333" stroke-width="0.6" />
<text x="39.40" y="147.29" font-size="6.6" text-anchor="middle" fill="#000" >0</text>
<text x="53.78" y="147.29" font-size="6.6" text-anchor="middle" fill="#000" >0.16</text>
<text x="68.16" y="147.29" font-size="6.6" text-anchor="middle" fill="#000" >0.8</text>
<text x="82.54" y="147.29" font-size="6.6" text-anchor="middle" fill="#000" >4</text>
<text x="96.92" y="147.29" font-size="6.6" text-anchor="middle" fill="#000" >20</text>
<text x="111.30" y="147.29" font-size="6.6" text-anchor="middle" fill="#000" >100</text>
<circle cx="39.40" cy="90.16" r="1.3" fill="none" stroke="#000" stroke-width="0.6"/>
<circle cx="39.40" cy="103.54" r="1.3" fill="none" stroke="#000" stroke-width="0.6"/>
<circle cx="39.40" cy="109.28" r="1.3" fill="none" stroke="#000" stroke-width="0.6"/>
<circle cx="39.40" cy="130.79" r="1.3" fill="none" stroke="#000" stroke-width="0.6"/>
<circle cx="39.40" cy="136.52" r="1.3" fill="none" stroke="#000" stroke-width="0.6"/>
<rect x="37.90" y="94.87" width="3.0" height="3.0" fill="#000"/>
<circle cx="53.78" cy="91.11" r="1.3" fill="none" stroke="#000" stroke-width="0.6"/>
<circle cx="53.78" cy="102.58" r="1.3" fill="none" stroke="#000" stroke-width="0.6"/>
<circle cx="53.78" cy="104.50" r="1.3" fill="none" stroke="#000" stroke-width="0.6"/>
<circle cx="53.78" cy="135.09" r="1.3" fill="none" stroke="#000" stroke-width="0.6"/>
<rect x="52.28" y="96.30" width="3.0" height="3.0" fill="#000"/>
<circle cx="68.16" cy="99.24" r="1.3" fill="none" stroke="#000" stroke-width="0.6"/>
<circle cx="68.16" cy="104.02" r="1.3" fill="none" stroke="#000" stroke-width="0.6"/>
<circle cx="68.16" cy="111.67" r="1.3" fill="none" stroke="#000" stroke-width="0.6"/>
<rect x="66.66" y="103.47" width="3.0" height="3.0" fill="#000"/>
<circle cx="82.54" cy="101.63" r="1.3" fill="none" stroke="#000" stroke-width="0.6"/>
<circle cx="82.54" cy="103.54" r="1.3" fill="none" stroke="#000" stroke-width="0.6"/>
<circle cx="82.54" cy="104.50" r="1.3" fill="none" stroke="#000" stroke-width="0.6"/>
<circle cx="82.54" cy="105.45" r="1.3" fill="none" stroke="#000" stroke-width="0.6"/>
<rect x="81.04" y="102.52" width="3.0" height="3.0" fill="#000"/>
<circle cx="96.92" cy="101.15" r="1.3" fill="none" stroke="#000" stroke-width="0.6"/>
<circle cx="96.92" cy="102.58" r="1.3" fill="none" stroke="#000" stroke-width="0.6"/>
<rect x="95.42" y="101.56" width="3.0" height="3.0" fill="#000"/>
<circle cx="111.30" cy="99.72" r="1.3" fill="none" stroke="#000" stroke-width="0.6"/>
<circle cx="111.30" cy="102.58" r="1.3" fill="none" stroke="#000" stroke-width="0.6"/>
<circle cx="111.30" cy="101.63" r="1.3" fill="none" stroke="#000" stroke-width="0.6"/>
<rect x="109.80" y="99.65" width="3.0" height="3.0" fill="#000"/>
<line x1="136.40" y1="89.20" x2="222.90" y2="89.20" stroke="#6a6a6a" stroke-width="0.95" />
<line x1="222.90" y1="89.20" x2="222.90" y2="136.80" stroke="#6a6a6a" stroke-width="0.95" />
<line x1="136.40" y1="89.20" x2="136.40" y2="136.80" stroke="#5a5a5a" stroke-width="0.95" />
<line x1="135.95" y1="136.80" x2="223.35" y2="136.80" stroke="#111" stroke-width="0.95" />
<line x1="136.40" y1="127.28" x2="138.00" y2="127.28" stroke="#333" stroke-width="0.6" />
<line x1="136.40" y1="117.76" x2="138.00" y2="117.76" stroke="#333" stroke-width="0.6" />
<line x1="136.40" y1="108.24" x2="138.00" y2="108.24" stroke="#333" stroke-width="0.6" />
<line x1="136.40" y1="98.72" x2="138.00" y2="98.72" stroke="#333" stroke-width="0.6" />
<text x="130.40" y="139.14" font-size="6.6" text-anchor="end" fill="#000" >0</text>
<text x="130.40" y="129.62" font-size="6.6" text-anchor="end" fill="#000" >0.2</text>
<text x="130.40" y="120.10" font-size="6.6" text-anchor="end" fill="#000" >0.4</text>
<text x="130.40" y="110.58" font-size="6.6" text-anchor="end" fill="#000" >0.6</text>
<text x="130.40" y="101.06" font-size="6.6" text-anchor="end" fill="#000" >0.8</text>
<text x="130.40" y="91.54" font-size="6.6" text-anchor="end" fill="#000" >1</text>
<line x1="158.08" y1="136.80" x2="158.08" y2="135.20" stroke="#333" stroke-width="0.6" />
<line x1="172.46" y1="136.80" x2="172.46" y2="135.20" stroke="#333" stroke-width="0.6" />
<line x1="186.84" y1="136.80" x2="186.84" y2="135.20" stroke="#333" stroke-width="0.6" />
<line x1="201.22" y1="136.80" x2="201.22" y2="135.20" stroke="#333" stroke-width="0.6" />
<line x1="215.60" y1="136.80" x2="215.60" y2="135.20" stroke="#333" stroke-width="0.6" />
<text x="143.70" y="147.09" font-size="6.6" text-anchor="middle" fill="#000" >0</text>
<text x="158.08" y="147.09" font-size="6.6" text-anchor="middle" fill="#000" >0.16</text>
<text x="172.46" y="147.09" font-size="6.6" text-anchor="middle" fill="#000" >0.8</text>
<text x="186.84" y="147.09" font-size="6.6" text-anchor="middle" fill="#000" >4</text>
<text x="201.22" y="147.09" font-size="6.6" text-anchor="middle" fill="#000" >20</text>
<text x="215.60" y="147.09" font-size="6.6" text-anchor="middle" fill="#000" >100</text>
<circle cx="143.70" cy="90.15" r="1.3" fill="none" stroke="#000" stroke-width="0.6"/>
<circle cx="143.70" cy="103.48" r="1.3" fill="none" stroke="#000" stroke-width="0.6"/>
<circle cx="143.70" cy="109.19" r="1.3" fill="none" stroke="#000" stroke-width="0.6"/>
<circle cx="143.70" cy="130.61" r="1.3" fill="none" stroke="#000" stroke-width="0.6"/>
<circle cx="143.70" cy="136.32" r="1.3" fill="none" stroke="#000" stroke-width="0.6"/>
<rect x="142.20" y="94.84" width="3.0" height="3.0" fill="#000"/>
<circle cx="158.08" cy="105.38" r="1.3" fill="none" stroke="#000" stroke-width="0.6"/>
<circle cx="158.08" cy="110.14" r="1.3" fill="none" stroke="#000" stroke-width="0.6"/>
<rect x="156.58" y="106.74" width="3.0" height="3.0" fill="#000"/>
<circle cx="172.46" cy="100.62" r="1.3" fill="none" stroke="#000" stroke-width="0.6"/>
<circle cx="172.46" cy="113.95" r="1.3" fill="none" stroke="#000" stroke-width="0.6"/>
<circle cx="172.46" cy="119.66" r="1.3" fill="none" stroke="#000" stroke-width="0.6"/>
<rect x="170.96" y="111.02" width="3.0" height="3.0" fill="#000"/>
<circle cx="186.84" cy="99.20" r="1.3" fill="none" stroke="#000" stroke-width="0.6"/>
<circle cx="186.84" cy="103.96" r="1.3" fill="none" stroke="#000" stroke-width="0.6"/>
<circle cx="186.84" cy="101.10" r="1.3" fill="none" stroke="#000" stroke-width="0.6"/>
<rect x="185.34" y="100.55" width="3.0" height="3.0" fill="#000"/>
<circle cx="201.22" cy="100.15" r="1.3" fill="none" stroke="#000" stroke-width="0.6"/>
<circle cx="201.22" cy="123.95" r="1.3" fill="none" stroke="#000" stroke-width="0.6"/>
<rect x="199.72" y="101.03" width="3.0" height="3.0" fill="#000"/>
<circle cx="215.60" cy="102.53" r="1.3" fill="none" stroke="#000" stroke-width="0.6"/>
<circle cx="215.60" cy="100.62" r="1.3" fill="none" stroke="#000" stroke-width="0.6"/>
<rect x="214.10" y="100.08" width="3.0" height="3.0" fill="#000"/>
<line x1="241.30" y1="89.20" x2="327.90" y2="89.20" stroke="#6a6a6a" stroke-width="0.95" />
<line x1="327.90" y1="89.20" x2="327.90" y2="137.00" stroke="#6a6a6a" stroke-width="0.95" />
<line x1="241.30" y1="89.20" x2="241.30" y2="137.00" stroke="#5a5a5a" stroke-width="0.95" />
<line x1="240.85" y1="137.00" x2="328.35" y2="137.00" stroke="#111" stroke-width="0.95" />
<line x1="241.30" y1="127.44" x2="242.90" y2="127.44" stroke="#333" stroke-width="0.6" />
<line x1="241.30" y1="117.88" x2="242.90" y2="117.88" stroke="#333" stroke-width="0.6" />
<line x1="241.30" y1="108.32" x2="242.90" y2="108.32" stroke="#333" stroke-width="0.6" />
<line x1="241.30" y1="98.76" x2="242.90" y2="98.76" stroke="#333" stroke-width="0.6" />
<text x="235.30" y="139.34" font-size="6.6" text-anchor="end" fill="#000" >0</text>
<text x="235.30" y="129.78" font-size="6.6" text-anchor="end" fill="#000" >0.2</text>
<text x="235.30" y="120.22" font-size="6.6" text-anchor="end" fill="#000" >0.4</text>
<text x="235.30" y="110.66" font-size="6.6" text-anchor="end" fill="#000" >0.6</text>
<text x="235.30" y="101.10" font-size="6.6" text-anchor="end" fill="#000" >0.8</text>
<text x="235.30" y="91.54" font-size="6.6" text-anchor="end" fill="#000" >1</text>
<line x1="262.98" y1="137.00" x2="262.98" y2="135.40" stroke="#333" stroke-width="0.6" />
<line x1="277.36" y1="137.00" x2="277.36" y2="135.40" stroke="#333" stroke-width="0.6" />
<line x1="291.74" y1="137.00" x2="291.74" y2="135.40" stroke="#333" stroke-width="0.6" />
<line x1="306.12" y1="137.00" x2="306.12" y2="135.40" stroke="#333" stroke-width="0.6" />
<line x1="320.50" y1="137.00" x2="320.50" y2="135.40" stroke="#333" stroke-width="0.6" />
<text x="248.60" y="147.29" font-size="6.6" text-anchor="middle" fill="#000" >0</text>
<text x="262.98" y="147.29" font-size="6.6" text-anchor="middle" fill="#000" >0.16</text>
<text x="277.36" y="147.29" font-size="6.6" text-anchor="middle" fill="#000" >0.8</text>
<text x="291.74" y="147.29" font-size="6.6" text-anchor="middle" fill="#000" >4</text>
<text x="306.12" y="147.29" font-size="6.6" text-anchor="middle" fill="#000" >20</text>
<text x="320.50" y="147.29" font-size="6.6" text-anchor="middle" fill="#000" >100</text>
<circle cx="248.60" cy="90.16" r="1.3" fill="none" stroke="#000" stroke-width="0.6"/>
<circle cx="248.60" cy="103.54" r="1.3" fill="none" stroke="#000" stroke-width="0.6"/>
<circle cx="248.60" cy="109.28" r="1.3" fill="none" stroke="#000" stroke-width="0.6"/>
<circle cx="248.60" cy="130.79" r="1.3" fill="none" stroke="#000" stroke-width="0.6"/>
<circle cx="248.60" cy="136.52" r="1.3" fill="none" stroke="#000" stroke-width="0.6"/>
<rect x="247.10" y="94.87" width="3.0" height="3.0" fill="#000"/>
<circle cx="262.98" cy="99.72" r="1.3" fill="none" stroke="#000" stroke-width="0.6"/>
<circle cx="262.98" cy="114.53" r="1.3" fill="none" stroke="#000" stroke-width="0.6"/>
<rect x="261.48" y="109.21" width="3.0" height="3.0" fill="#000"/>
<circle cx="277.36" cy="95.41" r="1.3" fill="none" stroke="#000" stroke-width="0.6"/>
<circle cx="277.36" cy="100.19" r="1.3" fill="none" stroke="#000" stroke-width="0.6"/>
<circle cx="277.36" cy="97.80" r="1.3" fill="none" stroke="#000" stroke-width="0.6"/>
<rect x="275.86" y="95.35" width="3.0" height="3.0" fill="#000"/>
<circle cx="291.74" cy="95.41" r="1.3" fill="none" stroke="#000" stroke-width="0.6"/>
<circle cx="291.74" cy="97.80" r="1.3" fill="none" stroke="#000" stroke-width="0.6"/>
<rect x="290.24" y="95.83" width="3.0" height="3.0" fill="#000"/>
<circle cx="306.12" cy="100.67" r="1.3" fill="none" stroke="#000" stroke-width="0.6"/>
<circle cx="306.12" cy="101.63" r="1.3" fill="none" stroke="#000" stroke-width="0.6"/>
<rect x="304.62" y="99.65" width="3.0" height="3.0" fill="#000"/>
<circle cx="320.50" cy="95.41" r="1.3" fill="none" stroke="#000" stroke-width="0.6"/>
<circle cx="320.50" cy="99.24" r="1.3" fill="none" stroke="#000" stroke-width="0.6"/>
<circle cx="320.50" cy="97.80" r="1.3" fill="none" stroke="#000" stroke-width="0.6"/>
<rect x="319.00" y="95.35" width="3.0" height="3.0" fill="#000"/>
<line x1="379.30" y1="89.30" x2="465.70" y2="89.30" stroke="#6a6a6a" stroke-width="0.95" />
<line x1="465.70" y1="89.30" x2="465.70" y2="136.80" stroke="#6a6a6a" stroke-width="0.95" />
<line x1="379.30" y1="89.30" x2="379.30" y2="136.80" stroke="#5a5a5a" stroke-width="0.95" />
<line x1="378.85" y1="136.80" x2="466.15" y2="136.80" stroke="#111" stroke-width="0.95" />
<line x1="379.30" y1="127.30" x2="380.90" y2="127.30" stroke="#333" stroke-width="0.6" />
<line x1="379.30" y1="117.80" x2="380.90" y2="117.80" stroke="#333" stroke-width="0.6" />
<line x1="379.30" y1="108.30" x2="380.90" y2="108.30" stroke="#333" stroke-width="0.6" />
<line x1="379.30" y1="98.80" x2="380.90" y2="98.80" stroke="#333" stroke-width="0.6" />
<text x="373.30" y="139.14" font-size="6.6" text-anchor="end" fill="#000" >0</text>
<text x="373.30" y="129.64" font-size="6.6" text-anchor="end" fill="#000" >0.2</text>
<text x="373.30" y="120.14" font-size="6.6" text-anchor="end" fill="#000" >0.4</text>
<text x="373.30" y="110.64" font-size="6.6" text-anchor="end" fill="#000" >0.6</text>
<text x="373.30" y="101.14" font-size="6.6" text-anchor="end" fill="#000" >0.8</text>
<text x="373.30" y="91.64" font-size="6.6" text-anchor="end" fill="#000" >1</text>
<line x1="400.98" y1="136.80" x2="400.98" y2="135.20" stroke="#333" stroke-width="0.6" />
<line x1="415.36" y1="136.80" x2="415.36" y2="135.20" stroke="#333" stroke-width="0.6" />
<line x1="429.74" y1="136.80" x2="429.74" y2="135.20" stroke="#333" stroke-width="0.6" />
<line x1="444.12" y1="136.80" x2="444.12" y2="135.20" stroke="#333" stroke-width="0.6" />
<line x1="458.50" y1="136.80" x2="458.50" y2="135.20" stroke="#333" stroke-width="0.6" />
<text x="386.60" y="147.09" font-size="6.6" text-anchor="middle" fill="#000" >0</text>
<text x="400.98" y="147.09" font-size="6.6" text-anchor="middle" fill="#000" >0.16</text>
<text x="415.36" y="147.09" font-size="6.6" text-anchor="middle" fill="#000" >0.8</text>
<text x="429.74" y="147.09" font-size="6.6" text-anchor="middle" fill="#000" >4</text>
<text x="444.12" y="147.09" font-size="6.6" text-anchor="middle" fill="#000" >20</text>
<text x="458.50" y="147.09" font-size="6.6" text-anchor="middle" fill="#000" >100</text>
<circle cx="386.60" cy="108.30" r="1.3" fill="none" stroke="#000" stroke-width="0.6"/>
<circle cx="386.60" cy="124.93" r="1.3" fill="none" stroke="#000" stroke-width="0.6"/>
<circle cx="386.60" cy="133.00" r="1.3" fill="none" stroke="#000" stroke-width="0.6"/>
<circle cx="386.60" cy="134.43" r="1.3" fill="none" stroke="#000" stroke-width="0.6"/>
<circle cx="386.60" cy="127.30" r="1.3" fill="none" stroke="#000" stroke-width="0.6"/>
<rect x="385.10" y="126.75" width="3.0" height="3.0" fill="#000"/>
<circle cx="400.98" cy="96.90" r="1.3" fill="none" stroke="#000" stroke-width="0.6"/>
<circle cx="400.98" cy="108.30" r="1.3" fill="none" stroke="#000" stroke-width="0.6"/>
<circle cx="400.98" cy="124.93" r="1.3" fill="none" stroke="#000" stroke-width="0.6"/>
<circle cx="400.98" cy="129.68" r="1.3" fill="none" stroke="#000" stroke-width="0.6"/>
<rect x="399.48" y="129.60" width="3.0" height="3.0" fill="#000"/>
<circle cx="415.36" cy="92.62" r="1.3" fill="none" stroke="#000" stroke-width="0.6"/>
<circle cx="415.36" cy="103.08" r="1.3" fill="none" stroke="#000" stroke-width="0.6"/>
<circle cx="415.36" cy="108.30" r="1.3" fill="none" stroke="#000" stroke-width="0.6"/>
<circle cx="415.36" cy="119.70" r="1.3" fill="none" stroke="#000" stroke-width="0.6"/>
<circle cx="415.36" cy="134.43" r="1.3" fill="none" stroke="#000" stroke-width="0.6"/>
<rect x="413.86" y="98.72" width="3.0" height="3.0" fill="#000"/>
<circle cx="429.74" cy="100.70" r="1.3" fill="none" stroke="#000" stroke-width="0.6"/>
<circle cx="429.74" cy="107.35" r="1.3" fill="none" stroke="#000" stroke-width="0.6"/>
<circle cx="429.74" cy="105.92" r="1.3" fill="none" stroke="#000" stroke-width="0.6"/>
<circle cx="429.74" cy="104.03" r="1.3" fill="none" stroke="#000" stroke-width="0.6"/>
<circle cx="429.74" cy="106.40" r="1.3" fill="none" stroke="#000" stroke-width="0.6"/>
<rect x="428.24" y="103.47" width="3.0" height="3.0" fill="#000"/>
<circle cx="444.12" cy="96.90" r="1.3" fill="none" stroke="#000" stroke-width="0.6"/>
<circle cx="444.12" cy="101.65" r="1.3" fill="none" stroke="#000" stroke-width="0.6"/>
<circle cx="444.12" cy="107.35" r="1.3" fill="none" stroke="#000" stroke-width="0.6"/>
<circle cx="444.12" cy="111.15" r="1.3" fill="none" stroke="#000" stroke-width="0.6"/>
<circle cx="444.12" cy="106.40" r="1.3" fill="none" stroke="#000" stroke-width="0.6"/>
<circle cx="444.12" cy="104.50" r="1.3" fill="none" stroke="#000" stroke-width="0.6"/>
<rect x="442.62" y="103.95" width="3.0" height="3.0" fill="#000"/>
<circle cx="458.50" cy="89.78" r="1.3" fill="none" stroke="#000" stroke-width="0.6"/>
<circle cx="458.50" cy="91.20" r="1.3" fill="none" stroke="#000" stroke-width="0.6"/>
<circle cx="458.50" cy="105.45" r="1.3" fill="none" stroke="#000" stroke-width="0.6"/>
<circle cx="458.50" cy="111.15" r="1.3" fill="none" stroke="#000" stroke-width="0.6"/>
<rect x="457.00" y="98.72" width="3.0" height="3.0" fill="#000"/>
<line x1="483.50" y1="89.20" x2="569.80" y2="89.20" stroke="#6a6a6a" stroke-width="0.95" />
<line x1="569.80" y1="89.20" x2="569.80" y2="136.50" stroke="#6a6a6a" stroke-width="0.95" />
<line x1="483.50" y1="89.20" x2="483.50" y2="136.50" stroke="#5a5a5a" stroke-width="0.95" />
<line x1="483.05" y1="136.50" x2="570.25" y2="136.50" stroke="#111" stroke-width="0.95" />
<line x1="483.50" y1="127.04" x2="485.10" y2="127.04" stroke="#333" stroke-width="0.6" />
<line x1="483.50" y1="117.58" x2="485.10" y2="117.58" stroke="#333" stroke-width="0.6" />
<line x1="483.50" y1="108.12" x2="485.10" y2="108.12" stroke="#333" stroke-width="0.6" />
<line x1="483.50" y1="98.66" x2="485.10" y2="98.66" stroke="#333" stroke-width="0.6" />
<text x="477.50" y="138.84" font-size="6.6" text-anchor="end" fill="#000" >0</text>
<text x="477.50" y="129.38" font-size="6.6" text-anchor="end" fill="#000" >0.2</text>
<text x="477.50" y="119.92" font-size="6.6" text-anchor="end" fill="#000" >0.4</text>
<text x="477.50" y="110.46" font-size="6.6" text-anchor="end" fill="#000" >0.6</text>
<text x="477.50" y="101.00" font-size="6.6" text-anchor="end" fill="#000" >0.8</text>
<text x="477.50" y="91.54" font-size="6.6" text-anchor="end" fill="#000" >1</text>
<line x1="505.18" y1="136.50" x2="505.18" y2="134.90" stroke="#333" stroke-width="0.6" />
<line x1="519.56" y1="136.50" x2="519.56" y2="134.90" stroke="#333" stroke-width="0.6" />
<line x1="533.94" y1="136.50" x2="533.94" y2="134.90" stroke="#333" stroke-width="0.6" />
<line x1="548.32" y1="136.50" x2="548.32" y2="134.90" stroke="#333" stroke-width="0.6" />
<line x1="562.70" y1="136.50" x2="562.70" y2="134.90" stroke="#333" stroke-width="0.6" />
<text x="490.80" y="146.79" font-size="6.6" text-anchor="middle" fill="#000" >0</text>
<text x="505.18" y="146.79" font-size="6.6" text-anchor="middle" fill="#000" >0.16</text>
<text x="519.56" y="146.79" font-size="6.6" text-anchor="middle" fill="#000" >0.8</text>
<text x="533.94" y="146.79" font-size="6.6" text-anchor="middle" fill="#000" >4</text>
<text x="548.32" y="146.79" font-size="6.6" text-anchor="middle" fill="#000" >20</text>
<text x="562.70" y="146.79" font-size="6.6" text-anchor="middle" fill="#000" >100</text>
<circle cx="490.80" cy="109.54" r="1.3" fill="none" stroke="#000" stroke-width="0.6"/>
<circle cx="490.80" cy="134.13" r="1.3" fill="none" stroke="#000" stroke-width="0.6"/>
<circle cx="490.80" cy="130.82" r="1.3" fill="none" stroke="#000" stroke-width="0.6"/>
<rect x="489.30" y="130.27" width="3.0" height="3.0" fill="#000"/>
<circle cx="505.18" cy="94.40" r="1.3" fill="none" stroke="#000" stroke-width="0.6"/>
<circle cx="505.18" cy="120.42" r="1.3" fill="none" stroke="#000" stroke-width="0.6"/>
<circle cx="505.18" cy="127.99" r="1.3" fill="none" stroke="#000" stroke-width="0.6"/>
<rect x="503.68" y="133.58" width="3.0" height="3.0" fill="#000"/>
<circle cx="519.56" cy="93.46" r="1.3" fill="none" stroke="#000" stroke-width="0.6"/>
<circle cx="519.56" cy="100.55" r="1.3" fill="none" stroke="#000" stroke-width="0.6"/>
<circle cx="519.56" cy="114.27" r="1.3" fill="none" stroke="#000" stroke-width="0.6"/>
<rect x="518.06" y="100.94" width="3.0" height="3.0" fill="#000"/>
<circle cx="533.94" cy="102.92" r="1.3" fill="none" stroke="#000" stroke-width="0.6"/>
<circle cx="533.94" cy="102.44" r="1.3" fill="none" stroke="#000" stroke-width="0.6"/>
<circle cx="533.94" cy="101.50" r="1.3" fill="none" stroke="#000" stroke-width="0.6"/>
<rect x="532.44" y="100.47" width="3.0" height="3.0" fill="#000"/>
<circle cx="548.32" cy="101.50" r="1.3" fill="none" stroke="#000" stroke-width="0.6"/>
<circle cx="548.32" cy="103.39" r="1.3" fill="none" stroke="#000" stroke-width="0.6"/>
<circle cx="548.32" cy="102.44" r="1.3" fill="none" stroke="#000" stroke-width="0.6"/>
<rect x="546.82" y="101.42" width="3.0" height="3.0" fill="#000"/>
<circle cx="562.70" cy="100.08" r="1.3" fill="none" stroke="#000" stroke-width="0.6"/>
<circle cx="562.70" cy="103.39" r="1.3" fill="none" stroke="#000" stroke-width="0.6"/>
<circle cx="562.70" cy="101.97" r="1.3" fill="none" stroke="#000" stroke-width="0.6"/>
<rect x="561.20" y="99.53" width="3.0" height="3.0" fill="#000"/>
<line x1="587.50" y1="89.00" x2="674.50" y2="89.00" stroke="#6a6a6a" stroke-width="0.95" />
<line x1="674.50" y1="89.00" x2="674.50" y2="136.30" stroke="#6a6a6a" stroke-width="0.95" />
<line x1="587.50" y1="89.00" x2="587.50" y2="136.30" stroke="#5a5a5a" stroke-width="0.95" />
<line x1="587.05" y1="136.30" x2="674.95" y2="136.30" stroke="#111" stroke-width="0.95" />
<line x1="587.50" y1="126.84" x2="589.10" y2="126.84" stroke="#333" stroke-width="0.6" />
<line x1="587.50" y1="117.38" x2="589.10" y2="117.38" stroke="#333" stroke-width="0.6" />
<line x1="587.50" y1="107.92" x2="589.10" y2="107.92" stroke="#333" stroke-width="0.6" />
<line x1="587.50" y1="98.46" x2="589.10" y2="98.46" stroke="#333" stroke-width="0.6" />
<text x="581.50" y="138.64" font-size="6.6" text-anchor="end" fill="#000" >0</text>
<text x="581.50" y="129.18" font-size="6.6" text-anchor="end" fill="#000" >0.2</text>
<text x="581.50" y="119.72" font-size="6.6" text-anchor="end" fill="#000" >0.4</text>
<text x="581.50" y="110.26" font-size="6.6" text-anchor="end" fill="#000" >0.6</text>
<text x="581.50" y="100.80" font-size="6.6" text-anchor="end" fill="#000" >0.8</text>
<text x="581.50" y="91.34" font-size="6.6" text-anchor="end" fill="#000" >1</text>
<line x1="609.18" y1="136.30" x2="609.18" y2="134.70" stroke="#333" stroke-width="0.6" />
<line x1="623.56" y1="136.30" x2="623.56" y2="134.70" stroke="#333" stroke-width="0.6" />
<line x1="637.94" y1="136.30" x2="637.94" y2="134.70" stroke="#333" stroke-width="0.6" />
<line x1="652.32" y1="136.30" x2="652.32" y2="134.70" stroke="#333" stroke-width="0.6" />
<line x1="666.70" y1="136.30" x2="666.70" y2="134.70" stroke="#333" stroke-width="0.6" />
<text x="594.80" y="146.59" font-size="6.6" text-anchor="middle" fill="#000" >0</text>
<text x="609.18" y="146.59" font-size="6.6" text-anchor="middle" fill="#000" >0.16</text>
<text x="623.56" y="146.59" font-size="6.6" text-anchor="middle" fill="#000" >0.8</text>
<text x="637.94" y="146.59" font-size="6.6" text-anchor="middle" fill="#000" >4</text>
<text x="652.32" y="146.59" font-size="6.6" text-anchor="middle" fill="#000" >20</text>
<text x="666.70" y="146.59" font-size="6.6" text-anchor="middle" fill="#000" >100</text>
<circle cx="594.80" cy="117.38" r="1.3" fill="none" stroke="#000" stroke-width="0.6"/>
<circle cx="594.80" cy="124.95" r="1.3" fill="none" stroke="#000" stroke-width="0.6"/>
<circle cx="594.80" cy="121.16" r="1.3" fill="none" stroke="#000" stroke-width="0.6"/>
<circle cx="594.80" cy="119.27" r="1.3" fill="none" stroke="#000" stroke-width="0.6"/>
<rect x="593.30" y="118.72" width="3.0" height="3.0" fill="#000"/>
<circle cx="609.18" cy="115.02" r="1.3" fill="none" stroke="#000" stroke-width="0.6"/>
<circle cx="609.18" cy="118.80" r="1.3" fill="none" stroke="#000" stroke-width="0.6"/>
<circle cx="609.18" cy="116.43" r="1.3" fill="none" stroke="#000" stroke-width="0.6"/>
<circle cx="609.18" cy="118.33" r="1.3" fill="none" stroke="#000" stroke-width="0.6"/>
<rect x="607.68" y="115.88" width="3.0" height="3.0" fill="#000"/>
<circle cx="623.56" cy="115.49" r="1.3" fill="none" stroke="#000" stroke-width="0.6"/>
<circle cx="623.56" cy="124.95" r="1.3" fill="none" stroke="#000" stroke-width="0.6"/>
<circle cx="623.56" cy="121.16" r="1.3" fill="none" stroke="#000" stroke-width="0.6"/>
<rect x="622.06" y="118.72" width="3.0" height="3.0" fill="#000"/>
<circle cx="637.94" cy="109.81" r="1.3" fill="none" stroke="#000" stroke-width="0.6"/>
<circle cx="637.94" cy="117.85" r="1.3" fill="none" stroke="#000" stroke-width="0.6"/>
<circle cx="637.94" cy="114.54" r="1.3" fill="none" stroke="#000" stroke-width="0.6"/>
<circle cx="637.94" cy="112.65" r="1.3" fill="none" stroke="#000" stroke-width="0.6"/>
<rect x="636.44" y="112.10" width="3.0" height="3.0" fill="#000"/>
<circle cx="652.32" cy="106.97" r="1.3" fill="none" stroke="#000" stroke-width="0.6"/>
<circle cx="652.32" cy="112.18" r="1.3" fill="none" stroke="#000" stroke-width="0.6"/>
<circle cx="652.32" cy="110.28" r="1.3" fill="none" stroke="#000" stroke-width="0.6"/>
<circle cx="652.32" cy="107.92" r="1.3" fill="none" stroke="#000" stroke-width="0.6"/>
<rect x="650.82" y="107.84" width="3.0" height="3.0" fill="#000"/>
<circle cx="666.70" cy="97.51" r="1.3" fill="none" stroke="#000" stroke-width="0.6"/>
<circle cx="666.70" cy="100.35" r="1.3" fill="none" stroke="#000" stroke-width="0.6"/>
<circle cx="666.70" cy="98.46" r="1.3" fill="none" stroke="#000" stroke-width="0.6"/>
<rect x="665.20" y="97.91" width="3.0" height="3.0" fill="#000"/>
<text x="2.40" y="5.20" font-size="8.2" text-anchor="start" fill="#000" font-weight="bold" >a</text>
<text x="2.30" y="80.40" font-size="8.2" text-anchor="start" fill="#000" font-weight="bold" >b</text>
<text x="350.20" y="4.90" font-size="8.2" text-anchor="start" fill="#000" font-weight="bold" >c</text>
<text x="349.50" y="80.10" font-size="8.2" text-anchor="start" fill="#000" font-weight="bold" >d</text>
<text transform="translate(8.10,38.00) rotate(-90)" x="0" y="0" font-size="8.85" text-anchor="middle" fill="#000" >Amplitude (-)</text>
<text transform="translate(7.60,113.60) rotate(-90)" x="0" y="0" font-size="8.85" text-anchor="middle" fill="#000" >Phase (rad/2&#960;)</text>
<text transform="translate(355.80,38.00) rotate(-90)" x="0" y="0" font-size="8.85" text-anchor="middle" fill="#000" >Amplitude (-)</text>
<text transform="translate(355.20,113.60) rotate(-90)" x="0" y="0" font-size="8.85" text-anchor="middle" fill="#000" >Phase (rad/2&#960;)</text>
<text x="175.60" y="159.20" font-size="8.85" text-anchor="middle" fill="#000" >Concentration (nM)</text>
<text x="528.60" y="159.20" font-size="8.85" text-anchor="middle" fill="#000" >Concentration (nM)</text>
<text x="328.0" y="72.2" font-size="6.0" fill="#333">(&#215; 10<tspan font-size="4.2" dy="-2.2">3</tspan><tspan dy="2.2">)</tspan></text>
<text x="328.0" y="146.8" font-size="6.0" fill="#333">(&#215; 10<tspan font-size="4.2" dy="-2.2">3</tspan><tspan dy="2.2">)</tspan></text>
<rect x="29.30" y="194.00" width="13.95" height="13.77" fill="#6b93cb"/>
<rect x="43.20" y="194.00" width="13.95" height="13.77" fill="#88a8d6"/>
<rect x="57.10" y="194.00" width="13.95" height="13.77" fill="#b4c8e6"/>
<rect x="71.00" y="194.00" width="13.95" height="13.77" fill="#e2e8f5"/>
<rect x="29.30" y="207.72" width="13.95" height="13.77" fill="#6f96cc"/>
<rect x="43.20" y="207.72" width="13.95" height="13.77" fill="#8eacd8"/>
<rect x="57.10" y="207.72" width="13.95" height="13.77" fill="#c4d3eb"/>
<rect x="71.00" y="207.72" width="13.95" height="13.77" fill="#fafafd"/>
<rect x="29.30" y="221.44" width="13.95" height="13.77" fill="#d4dff0"/>
<rect x="43.20" y="221.44" width="13.95" height="13.77" fill="#fcd7dc"/>
<rect x="57.10" y="221.44" width="13.95" height="13.77" fill="#fab7bc"/>
<rect x="71.00" y="221.44" width="13.95" height="13.77" fill="#f88a90"/>
<rect x="29.30" y="235.16" width="13.95" height="13.77" fill="#fbb1b6"/>
<rect x="43.20" y="235.16" width="13.95" height="13.77" fill="#f8949a"/>
<rect x="57.10" y="235.16" width="13.95" height="13.77" fill="#f67a80"/>
<rect x="71.00" y="235.16" width="13.95" height="13.77" fill="#f6767c"/>
<rect x="29.10" y="279.90" width="13.97" height="13.83" fill="#6e94cc"/>
<rect x="43.02" y="279.90" width="13.97" height="13.83" fill="#7b9ed2"/>
<rect x="56.94" y="279.90" width="13.97" height="13.83" fill="#b0c4e4"/>
<rect x="70.86" y="279.90" width="13.97" height="13.83" fill="#fdeaee"/>
<rect x="29.10" y="293.68" width="13.97" height="13.83" fill="#6e94cc"/>
<rect x="43.02" y="293.68" width="13.97" height="13.83" fill="#9ab4dc"/>
<rect x="56.94" y="293.68" width="13.97" height="13.83" fill="#b2c6e4"/>
<rect x="70.86" y="293.68" width="13.97" height="13.83" fill="#fcc5ca"/>
<rect x="29.10" y="307.46" width="13.97" height="13.83" fill="#d4e0f1"/>
<rect x="43.02" y="307.46" width="13.97" height="13.83" fill="#eef2fb"/>
<rect x="56.94" y="307.46" width="13.97" height="13.83" fill="#fdf0f2"/>
<rect x="70.86" y="307.46" width="13.97" height="13.83" fill="#fcd5da"/>
<rect x="29.10" y="321.24" width="13.97" height="13.83" fill="#fbb3b8"/>
<rect x="43.02" y="321.24" width="13.97" height="13.83" fill="#fbb6bb"/>
<rect x="56.94" y="321.24" width="13.97" height="13.83" fill="#f99ba1"/>
<rect x="70.86" y="321.24" width="13.97" height="13.83" fill="#fbb1b6"/>
<text x="24.80" y="203.16" font-size="6.6" text-anchor="end" fill="#000" >0</text>
<text x="24.80" y="289.09" font-size="6.6" text-anchor="end" fill="#000" >0</text>
<text x="24.80" y="216.88" font-size="6.6" text-anchor="end" fill="#000" >0.16</text>
<text x="24.80" y="302.87" font-size="6.6" text-anchor="end" fill="#000" >0.16</text>
<text x="24.80" y="230.60" font-size="6.6" text-anchor="end" fill="#000" >0.8</text>
<text x="24.80" y="316.65" font-size="6.6" text-anchor="end" fill="#000" >0.8</text>
<text x="24.80" y="244.32" font-size="6.6" text-anchor="end" fill="#000" >4</text>
<text x="24.80" y="330.43" font-size="6.6" text-anchor="end" fill="#000" >4</text>
<text x="36.25" y="191.60" font-size="6.6" text-anchor="middle" fill="#000" >0</text>
<text x="36.06" y="277.60" font-size="6.6" text-anchor="middle" fill="#000" >0</text>
<text x="50.15" y="191.60" font-size="6.6" text-anchor="middle" fill="#000" >0.8</text>
<text x="49.98" y="277.60" font-size="6.6" text-anchor="middle" fill="#000" >0.8</text>
<text x="64.05" y="191.60" font-size="6.6" text-anchor="middle" fill="#000" >4</text>
<text x="63.90" y="277.60" font-size="6.6" text-anchor="middle" fill="#000" >4</text>
<text x="77.95" y="191.60" font-size="6.6" text-anchor="middle" fill="#000" >20</text>
<text x="77.82" y="277.60" font-size="6.6" text-anchor="middle" fill="#000" >20</text>
<text x="58.20" y="182.30" font-size="7.8" text-anchor="middle" fill="#000" >Forskolin (&#956;M)</text>
<text x="56.40" y="268.00" font-size="7.8" text-anchor="middle" fill="#000" >CORT (nM)</text>
<text transform="translate(6.60,221.50) rotate(-90)" x="0" y="0" font-size="7.6" text-anchor="middle" fill="#000" >DEX (nM)</text>
<text transform="translate(6.60,307.40) rotate(-90)" x="0" y="0" font-size="7.6" text-anchor="middle" fill="#000" >DEX (nM)</text>
<text x="1.00" y="177.30" font-size="8.2" text-anchor="start" fill="#000" font-weight="bold" >e</text>
<text x="1.00" y="268.30" font-size="8.2" text-anchor="start" fill="#000" font-weight="bold" >f</text>
<rect x="88.8" y="226.30" width="11.2" height="5.00" fill="#f6626a"/>
<rect x="88.8" y="231.25" width="11.2" height="5.00" fill="#f77980"/>
<rect x="88.8" y="236.20" width="11.2" height="5.00" fill="#f89197"/>
<rect x="88.8" y="241.15" width="11.2" height="5.00" fill="#faa8ad"/>
<rect x="88.8" y="246.10" width="11.2" height="5.00" fill="#fbbfc3"/>
<rect x="88.8" y="251.05" width="11.2" height="5.00" fill="#fdd6d9"/>
<rect x="88.8" y="256.00" width="11.2" height="5.00" fill="#feeaec"/>
<rect x="88.8" y="260.95" width="11.2" height="5.00" fill="#fbfbfe"/>
<rect x="88.8" y="265.90" width="11.2" height="5.00" fill="#dfe6f3"/>
<rect x="88.8" y="270.85" width="11.2" height="5.00" fill="#c5d4eb"/>
<rect x="88.8" y="275.80" width="11.2" height="5.00" fill="#aac1e2"/>
<rect x="88.8" y="280.75" width="11.2" height="5.00" fill="#8eacd8"/>
<rect x="88.8" y="285.70" width="11.2" height="5.00" fill="#7299ce"/>
<rect x="88.8" y="290.65" width="11.2" height="5.00" fill="#5a87c5"/>
<text x="94.40" y="222.90" font-size="6.6" text-anchor="middle" fill="#000" >0.3</text>
<text x="94.60" y="304.60" font-size="6.6" text-anchor="middle" fill="#000" >0</text>
<text transform="translate(101.6,260.4) rotate(90)" font-size="8.7" text-anchor="middle">Amplitude<tspan font-size="5.6" dy="1.8">exp</tspan><tspan dy="-1.8"> (-)</tspan></text>
<line x1="144.40" y1="176.60" x2="217.40" y2="176.60" stroke="#6a6a6a" stroke-width="0.95" />
<line x1="217.40" y1="176.60" x2="217.40" y2="243.40" stroke="#6a6a6a" stroke-width="0.95" />
<line x1="144.40" y1="176.60" x2="144.40" y2="243.40" stroke="#555" stroke-width="0.95" />
<line x1="143.95" y1="243.40" x2="217.85" y2="243.40" stroke="#111" stroke-width="0.95" />
<line x1="144.40" y1="230.04" x2="146.00" y2="230.04" stroke="#333" stroke-width="0.6" />
<line x1="144.40" y1="216.68" x2="146.00" y2="216.68" stroke="#333" stroke-width="0.6" />
<line x1="144.40" y1="203.32" x2="146.00" y2="203.32" stroke="#333" stroke-width="0.6" />
<line x1="144.40" y1="189.96" x2="146.00" y2="189.96" stroke="#333" stroke-width="0.6" />
<line x1="168.73" y1="243.40" x2="168.73" y2="241.80" stroke="#333" stroke-width="0.6" />
<line x1="193.07" y1="243.40" x2="193.07" y2="241.80" stroke="#333" stroke-width="0.6" />
<text x="138.80" y="245.74" font-size="6.6" text-anchor="end" fill="#000" >0</text>
<text x="138.80" y="232.38" font-size="6.6" text-anchor="end" fill="#000" >0.1</text>
<text x="138.80" y="219.02" font-size="6.6" text-anchor="end" fill="#000" >0.2</text>
<text x="138.80" y="205.66" font-size="6.6" text-anchor="end" fill="#000" >0.3</text>
<text x="138.80" y="192.30" font-size="6.6" text-anchor="end" fill="#000" >0.4</text>
<text x="138.80" y="178.94" font-size="6.6" text-anchor="end" fill="#000" >0.5</text>
<text x="144.40" y="253.64" font-size="6.6" text-anchor="middle" fill="#000" >0</text>
<text x="168.73" y="253.64" font-size="6.6" text-anchor="middle" fill="#000" >0.2</text>
<text x="193.07" y="253.64" font-size="6.6" text-anchor="middle" fill="#000" >0.4</text>
<text x="217.40" y="253.64" font-size="6.6" text-anchor="middle" fill="#000" >0.6</text>
<circle cx="156.40" cy="233.30" r="1.3" fill="none" stroke="#000" stroke-width="0.6"/>
<circle cx="162.50" cy="225.50" r="1.3" fill="none" stroke="#000" stroke-width="0.6"/>
<circle cx="168.90" cy="216.60" r="1.3" fill="none" stroke="#000" stroke-width="0.6"/>
<circle cx="168.90" cy="210.60" r="1.3" fill="none" stroke="#000" stroke-width="0.6"/>
<circle cx="173.80" cy="205.40" r="1.3" fill="none" stroke="#000" stroke-width="0.6"/>
<circle cx="182.70" cy="196.30" r="1.3" fill="none" stroke="#000" stroke-width="0.6"/>
<circle cx="186.30" cy="197.90" r="1.3" fill="none" stroke="#000" stroke-width="0.6"/>
<circle cx="191.20" cy="193.10" r="1.3" fill="none" stroke="#000" stroke-width="0.6"/>
<circle cx="200.50" cy="192.10" r="1.3" fill="none" stroke="#000" stroke-width="0.6"/>
<circle cx="147.90" cy="239.10" r="1.45" fill="#000"/>
<circle cx="148.80" cy="238.30" r="1.45" fill="#000"/>
<circle cx="152.30" cy="234.40" r="1.45" fill="#000"/>
<circle cx="158.60" cy="227.60" r="1.45" fill="#000"/>
<circle cx="163.20" cy="222.30" r="1.45" fill="#000"/>
<circle cx="165.00" cy="220.50" r="1.45" fill="#000"/>
<circle cx="180.80" cy="203.30" r="1.45" fill="#000"/>
<rect x="183.30" y="218.20" width="30.50" height="20.10" fill="#fff" stroke="#444" stroke-width="0.7"/>
<circle cx="188.50" cy="223.43" r="1.15" fill="none" stroke="#000" stroke-width="0.55"/>
<circle cx="188.50" cy="233.07" r="1.4" fill="#000"/>
<text x="191.30" y="225.91" font-size="6.9" text-anchor="start" fill="#000" >MIX</text>
<text x="191.30" y="235.56" font-size="6.9" text-anchor="start" fill="#000" >Single</text>
<text x="180.90" y="263.3" font-size="8.85" text-anchor="middle">Amplitude<tspan font-size="5.49" dy="1.95">model</tspan><tspan dy="-1.95"> (-)</tspan></text>
<text transform="translate(123.6,208.3) rotate(-90)" font-size="8.85" text-anchor="middle">Amplitude<tspan font-size="5.49" dy="1.95">exp</tspan><tspan dy="-1.95"> (-)</tspan></text>
<text x="118.40" y="171.00" font-size="8.2" text-anchor="start" fill="#000" font-weight="bold" >g</text>
<line x1="248.30" y1="176.50" x2="323.80" y2="176.50" stroke="#6a6a6a" stroke-width="0.95" />
<line x1="323.80" y1="176.50" x2="323.80" y2="243.10" stroke="#6a6a6a" stroke-width="0.95" />
<line x1="248.30" y1="176.50" x2="248.30" y2="243.10" stroke="#555" stroke-width="0.95" />
<line x1="247.85" y1="243.10" x2="324.25" y2="243.10" stroke="#111" stroke-width="0.95" />
<line x1="248.30" y1="229.78" x2="249.90" y2="229.78" stroke="#333" stroke-width="0.6" />
<line x1="248.30" y1="216.46" x2="249.90" y2="216.46" stroke="#333" stroke-width="0.6" />
<line x1="248.30" y1="203.14" x2="249.90" y2="203.14" stroke="#333" stroke-width="0.6" />
<line x1="248.30" y1="189.82" x2="249.90" y2="189.82" stroke="#333" stroke-width="0.6" />
<line x1="263.40" y1="243.10" x2="263.40" y2="241.50" stroke="#333" stroke-width="0.6" />
<line x1="278.50" y1="243.10" x2="278.50" y2="241.50" stroke="#333" stroke-width="0.6" />
<line x1="293.60" y1="243.10" x2="293.60" y2="241.50" stroke="#333" stroke-width="0.6" />
<line x1="308.70" y1="243.10" x2="308.70" y2="241.50" stroke="#333" stroke-width="0.6" />
<text x="241.70" y="245.44" font-size="6.6" text-anchor="end" fill="#000" >0</text>
<text x="241.70" y="232.12" font-size="6.6" text-anchor="end" fill="#000" >0.2</text>
<text x="241.70" y="218.80" font-size="6.6" text-anchor="end" fill="#000" >0.4</text>
<text x="241.70" y="205.48" font-size="6.6" text-anchor="end" fill="#000" >0.6</text>
<text x="241.70" y="192.16" font-size="6.6" text-anchor="end" fill="#000" >0.8</text>
<text x="241.70" y="178.84" font-size="6.6" text-anchor="end" fill="#000" >1</text>
<text x="248.30" y="253.54" font-size="6.6" text-anchor="middle" fill="#000" >0</text>
<text x="263.40" y="253.54" font-size="6.6" text-anchor="middle" fill="#000" >0.2</text>
<text x="278.50" y="253.54" font-size="6.6" text-anchor="middle" fill="#000" >0.4</text>
<text x="293.60" y="253.54" font-size="6.6" text-anchor="middle" fill="#000" >0.6</text>
<text x="308.70" y="253.54" font-size="6.6" text-anchor="middle" fill="#000" >0.8</text>
<text x="323.80" y="253.54" font-size="6.6" text-anchor="middle" fill="#000" >1</text>
<circle cx="305.40" cy="189.20" r="1.3" fill="none" stroke="#000" stroke-width="0.6"/>
<circle cx="310.50" cy="193.70" r="1.3" fill="none" stroke="#000" stroke-width="0.6"/>
<circle cx="310.50" cy="196.40" r="1.3" fill="none" stroke="#000" stroke-width="0.6"/>
<circle cx="302.00" cy="195.00" r="1.3" fill="none" stroke="#000" stroke-width="0.6"/>
<circle cx="303.30" cy="198.80" r="1.3" fill="none" stroke="#000" stroke-width="0.6"/>
<circle cx="302.30" cy="200.50" r="1.3" fill="none" stroke="#000" stroke-width="0.6"/>
<circle cx="303.80" cy="197.20" r="1.3" fill="none" stroke="#000" stroke-width="0.6"/>
<circle cx="298.50" cy="198.80" r="1.45" fill="#000"/>
<circle cx="299.70" cy="197.70" r="1.45" fill="#000"/>
<circle cx="300.90" cy="196.70" r="1.45" fill="#000"/>
<circle cx="304.70" cy="193.30" r="1.45" fill="#000"/>
<circle cx="309.10" cy="189.60" r="1.45" fill="#000"/>
<circle cx="310.40" cy="188.50" r="1.45" fill="#000"/>
<circle cx="311.70" cy="187.50" r="1.45" fill="#000"/>
<circle cx="312.90" cy="186.50" r="1.45" fill="#000"/>
<rect x="287.30" y="218.30" width="32.60" height="20.40" fill="#fff" stroke="#444" stroke-width="0.7"/>
<circle cx="293.20" cy="223.60" r="1.15" fill="none" stroke="#000" stroke-width="0.55"/>
<circle cx="293.20" cy="233.40" r="1.4" fill="#000"/>
<text x="296.60" y="226.09" font-size="6.9" text-anchor="start" fill="#000" >MIX</text>
<text x="296.60" y="235.88" font-size="6.9" text-anchor="start" fill="#000" >Single</text>
<text x="286.05" y="263.3" font-size="8.85" text-anchor="middle">Phase<tspan font-size="5.49" dy="1.95">model</tspan><tspan dy="-1.95">  (rad/2&#960;)</tspan></text>
<text transform="translate(229.0,209.80) rotate(-90)" font-size="8.85" text-anchor="middle">Phase<tspan font-size="5.49" dy="1.95">exp</tspan><tspan dy="-1.95">  (rad/2&#960;)</tspan></text>
<text x="223.60" y="170.80" font-size="8.2" text-anchor="start" fill="#000" font-weight="bold" >h</text>
<line x1="144.30" y1="274.30" x2="217.30" y2="274.30" stroke="#6a6a6a" stroke-width="0.95" />
<line x1="217.30" y1="274.30" x2="217.30" y2="340.50" stroke="#6a6a6a" stroke-width="0.95" />
<line x1="144.30" y1="274.30" x2="144.30" y2="340.50" stroke="#555" stroke-width="0.95" />
<line x1="143.85" y1="340.50" x2="217.75" y2="340.50" stroke="#111" stroke-width="0.95" />
<line x1="144.30" y1="323.95" x2="145.90" y2="323.95" stroke="#333" stroke-width="0.6" />
<line x1="144.30" y1="307.40" x2="145.90" y2="307.40" stroke="#333" stroke-width="0.6" />
<line x1="144.30" y1="290.85" x2="145.90" y2="290.85" stroke="#333" stroke-width="0.6" />
<line x1="168.63" y1="340.50" x2="168.63" y2="338.90" stroke="#333" stroke-width="0.6" />
<line x1="192.97" y1="340.50" x2="192.97" y2="338.90" stroke="#333" stroke-width="0.6" />
<text x="138.70" y="342.84" font-size="6.6" text-anchor="end" fill="#000" >0</text>
<text x="138.70" y="326.29" font-size="6.6" text-anchor="end" fill="#000" >0.1</text>
<text x="138.70" y="309.74" font-size="6.6" text-anchor="end" fill="#000" >0.2</text>
<text x="138.70" y="293.19" font-size="6.6" text-anchor="end" fill="#000" >0.3</text>
<text x="138.70" y="276.64" font-size="6.6" text-anchor="end" fill="#000" >0.4</text>
<text x="144.30" y="351.14" font-size="6.6" text-anchor="middle" fill="#000" >0</text>
<text x="168.63" y="351.14" font-size="6.6" text-anchor="middle" fill="#000" >0.2</text>
<text x="192.97" y="351.14" font-size="6.6" text-anchor="middle" fill="#000" >0.4</text>
<text x="217.30" y="351.14" font-size="6.6" text-anchor="middle" fill="#000" >0.6</text>
<circle cx="150.40" cy="327.00" r="1.3" fill="none" stroke="#000" stroke-width="0.6"/>
<circle cx="161.60" cy="321.50" r="1.3" fill="none" stroke="#000" stroke-width="0.6"/>
<circle cx="166.80" cy="309.60" r="1.3" fill="none" stroke="#000" stroke-width="0.6"/>
<circle cx="175.70" cy="304.40" r="1.3" fill="none" stroke="#000" stroke-width="0.6"/>
<circle cx="174.50" cy="296.40" r="1.3" fill="none" stroke="#000" stroke-width="0.6"/>
<circle cx="183.10" cy="292.60" r="1.3" fill="none" stroke="#000" stroke-width="0.6"/>
<circle cx="189.50" cy="298.80" r="1.3" fill="none" stroke="#000" stroke-width="0.6"/>
<circle cx="193.80" cy="285.50" r="1.3" fill="none" stroke="#000" stroke-width="0.6"/>
<circle cx="207.20" cy="291.90" r="1.3" fill="none" stroke="#000" stroke-width="0.6"/>
<circle cx="147.50" cy="335.60" r="1.45" fill="#000"/>
<circle cx="149.10" cy="334.30" r="1.45" fill="#000"/>
<circle cx="150.40" cy="331.80" r="1.45" fill="#000"/>
<circle cx="157.70" cy="322.00" r="1.45" fill="#000"/>
<circle cx="163.00" cy="314.60" r="1.45" fill="#000"/>
<circle cx="171.10" cy="303.60" r="1.45" fill="#000"/>
<circle cx="180.30" cy="290.70" r="1.45" fill="#000"/>
<rect x="184.60" y="315.50" width="29.10" height="20.10" fill="#fff" stroke="#444" stroke-width="0.7"/>
<circle cx="189.20" cy="320.73" r="1.15" fill="none" stroke="#000" stroke-width="0.55"/>
<circle cx="189.20" cy="330.37" r="1.4" fill="#000"/>
<text x="192.30" y="323.21" font-size="6.9" text-anchor="start" fill="#000" >MIX</text>
<text x="192.30" y="332.86" font-size="6.9" text-anchor="start" fill="#000" >Single</text>
<text x="180.80" y="360.6" font-size="8.85" text-anchor="middle">Amplitude<tspan font-size="5.49" dy="1.95">model</tspan><tspan dy="-1.95"> (-)</tspan></text>
<text transform="translate(123.6,304.3) rotate(-90)" font-size="8.85" text-anchor="middle">Amplitude<tspan font-size="5.49" dy="1.95">exp</tspan><tspan dy="-1.95"> (-)</tspan></text>
<text x="118.20" y="266.90" font-size="8.2" text-anchor="start" fill="#000" font-weight="bold" >i</text>
<line x1="248.50" y1="274.20" x2="321.50" y2="274.20" stroke="#6a6a6a" stroke-width="0.95" />
<line x1="321.50" y1="274.20" x2="321.50" y2="340.50" stroke="#6a6a6a" stroke-width="0.95" />
<line x1="248.50" y1="274.20" x2="248.50" y2="340.50" stroke="#555" stroke-width="0.95" />
<line x1="248.05" y1="340.50" x2="321.95" y2="340.50" stroke="#111" stroke-width="0.95" />
<line x1="248.50" y1="323.93" x2="250.10" y2="323.93" stroke="#333" stroke-width="0.6" />
<line x1="248.50" y1="307.35" x2="250.10" y2="307.35" stroke="#333" stroke-width="0.6" />
<line x1="248.50" y1="290.77" x2="250.10" y2="290.77" stroke="#333" stroke-width="0.6" />
<line x1="266.75" y1="340.50" x2="266.75" y2="338.90" stroke="#333" stroke-width="0.6" />
<line x1="285.00" y1="340.50" x2="285.00" y2="338.90" stroke="#333" stroke-width="0.6" />
<line x1="303.25" y1="340.50" x2="303.25" y2="338.90" stroke="#333" stroke-width="0.6" />
<text x="242.90" y="342.84" font-size="6.6" text-anchor="end" fill="#000" >0</text>
<text x="242.90" y="326.27" font-size="6.6" text-anchor="end" fill="#000" >0.1</text>
<text x="242.90" y="309.69" font-size="6.6" text-anchor="end" fill="#000" >0.2</text>
<text x="242.90" y="293.12" font-size="6.6" text-anchor="end" fill="#000" >0.3</text>
<text x="242.90" y="276.54" font-size="6.6" text-anchor="end" fill="#000" >0.4</text>
<text x="248.50" y="351.04" font-size="6.6" text-anchor="middle" fill="#000" >0</text>
<text x="266.75" y="351.04" font-size="6.6" text-anchor="middle" fill="#000" >0.1</text>
<text x="285.00" y="351.04" font-size="6.6" text-anchor="middle" fill="#000" >0.2</text>
<text x="303.25" y="351.04" font-size="6.6" text-anchor="middle" fill="#000" >0.3</text>
<text x="321.50" y="351.04" font-size="6.6" text-anchor="middle" fill="#000" >0.4</text>
<circle cx="264.60" cy="327.00" r="1.3" fill="none" stroke="#000" stroke-width="0.6"/>
<circle cx="274.00" cy="321.40" r="1.3" fill="none" stroke="#000" stroke-width="0.6"/>
<circle cx="283.10" cy="309.70" r="1.3" fill="none" stroke="#000" stroke-width="0.6"/>
<circle cx="287.00" cy="304.00" r="1.3" fill="none" stroke="#000" stroke-width="0.6"/>
<circle cx="291.00" cy="296.10" r="1.3" fill="none" stroke="#000" stroke-width="0.6"/>
<circle cx="296.20" cy="298.50" r="1.3" fill="none" stroke="#000" stroke-width="0.6"/>
<circle cx="302.70" cy="293.30" r="1.3" fill="none" stroke="#000" stroke-width="0.6"/>
<circle cx="303.10" cy="285.40" r="1.3" fill="none" stroke="#000" stroke-width="0.6"/>
<circle cx="304.10" cy="291.60" r="1.3" fill="none" stroke="#000" stroke-width="0.6"/>
<circle cx="254.10" cy="335.30" r="1.45" fill="#000"/>
<circle cx="257.50" cy="331.60" r="1.45" fill="#000"/>
<circle cx="268.90" cy="321.70" r="1.45" fill="#000"/>
<circle cx="276.80" cy="314.00" r="1.45" fill="#000"/>
<circle cx="288.60" cy="303.40" r="1.45" fill="#000"/>
<circle cx="303.10" cy="291.70" r="1.45" fill="#000"/>
<rect x="288.00" y="315.30" width="29.50" height="20.30" fill="#fff" stroke="#444" stroke-width="0.7"/>
<circle cx="292.20" cy="320.58" r="1.15" fill="none" stroke="#000" stroke-width="0.55"/>
<circle cx="292.20" cy="330.32" r="1.4" fill="#000"/>
<text x="295.70" y="323.06" font-size="6.9" text-anchor="start" fill="#000" >MIX</text>
<text x="295.70" y="332.81" font-size="6.9" text-anchor="start" fill="#000" >Single</text>
<text x="285.00" y="360.6" font-size="8.85" text-anchor="middle">Amplitude<tspan font-size="5.49" dy="1.95">model</tspan><tspan dy="-1.95"> (-)</tspan></text>
<text transform="translate(228.0,305.6) rotate(-90)" font-size="8.85" text-anchor="middle">Amplitude<tspan font-size="5.49" dy="1.95">exp</tspan><tspan dy="-1.95"> (-)</tspan></text>
<text x="222.40" y="266.00" font-size="8.2" text-anchor="start" fill="#000" font-weight="bold" >j</text>
<line x1="364.30" y1="176.20" x2="451.00" y2="176.20" stroke="#6a6a6a" stroke-width="0.95" />
<line x1="451.00" y1="176.20" x2="451.00" y2="238.00" stroke="#6a6a6a" stroke-width="0.95" />
<line x1="364.30" y1="176.20" x2="364.30" y2="238.00" stroke="#555" stroke-width="0.95" />
<line x1="363.85" y1="238.00" x2="451.45" y2="238.00" stroke="#111" stroke-width="0.95" />
<line x1="364.30" y1="222.55" x2="365.90" y2="222.55" stroke="#333" stroke-width="0.6" />
<line x1="364.30" y1="207.10" x2="365.90" y2="207.10" stroke="#333" stroke-width="0.6" />
<line x1="364.30" y1="191.65" x2="365.90" y2="191.65" stroke="#333" stroke-width="0.6" />
<line x1="407.60" y1="238.00" x2="407.60" y2="236.40" stroke="#333" stroke-width="0.6" />
<line x1="436.50" y1="238.00" x2="436.50" y2="236.40" stroke="#333" stroke-width="0.6" />
<text x="358.10" y="240.34" font-size="6.6" text-anchor="end" fill="#000" >0</text>
<text x="358.10" y="224.89" font-size="6.6" text-anchor="end" fill="#000" >0.1</text>
<text x="358.10" y="209.44" font-size="6.6" text-anchor="end" fill="#000" >0.2</text>
<text x="358.10" y="193.99" font-size="6.6" text-anchor="end" fill="#000" >0.3</text>
<text x="358.10" y="178.54" font-size="6.6" text-anchor="end" fill="#000" >0.4</text>
<text x="378.80" y="248.74" font-size="6.6" text-anchor="middle" fill="#000" >0</text>
<text x="407.60" y="248.74" font-size="6.6" text-anchor="middle" fill="#000" >4</text>
<text x="436.50" y="248.74" font-size="6.6" text-anchor="middle" fill="#000" >20</text>
<text x="368.20" y="185.00" font-size="6.7" text-anchor="start" fill="#000" >Background</text>
<text x="368.20" y="193.30" font-size="6.7" text-anchor="start" fill="#2a78d6" >0 nM</text>
<text x="368.20" y="201.20" font-size="6.7" text-anchor="start" fill="#2ccad8" >4 nM</text>
<text x="368.20" y="209.10" font-size="6.7" text-anchor="start" fill="#7ccb6c" >20 nM</text>
<text transform="translate(342.30,206.10) rotate(-90)" x="0" y="0" font-size="8.85" text-anchor="middle" fill="#000" >Amplitude (-)</text>
<text x="336.00" y="170.30" font-size="8.2" text-anchor="start" fill="#000" font-weight="bold" >k</text>
<circle cx="378.80" cy="227.19" r="1.4" fill="none" stroke="#2a78d6" stroke-width="0.6"/>
<circle cx="378.80" cy="233.37" r="1.4" fill="none" stroke="#2a78d6" stroke-width="0.6"/>
<circle cx="378.80" cy="235.68" r="1.4" fill="none" stroke="#2a78d6" stroke-width="0.6"/>
<circle cx="378.80" cy="238.00" r="1.4" fill="none" stroke="#2a78d6" stroke-width="0.6"/>
<circle cx="407.60" cy="185.47" r="1.4" fill="none" stroke="#2a78d6" stroke-width="0.6"/>
<circle cx="407.60" cy="188.56" r="1.4" fill="none" stroke="#2a78d6" stroke-width="0.6"/>
<circle cx="407.60" cy="200.92" r="1.4" fill="none" stroke="#2a78d6" stroke-width="0.6"/>
<circle cx="436.50" cy="183.93" r="1.4" fill="none" stroke="#2a78d6" stroke-width="0.6"/>
<circle cx="436.50" cy="185.47" r="1.4" fill="none" stroke="#2a78d6" stroke-width="0.6"/>
<circle cx="436.50" cy="191.65" r="1.4" fill="none" stroke="#2a78d6" stroke-width="0.6"/>
<circle cx="407.60" cy="221.00" r="1.4" fill="none" stroke="#2ccad8" stroke-width="0.6"/>
<circle cx="407.60" cy="227.19" r="1.4" fill="none" stroke="#2ccad8" stroke-width="0.6"/>
<circle cx="407.60" cy="233.37" r="1.4" fill="none" stroke="#2ccad8" stroke-width="0.6"/>
<circle cx="436.50" cy="217.91" r="1.4" fill="none" stroke="#2ccad8" stroke-width="0.6"/>
<circle cx="436.50" cy="224.09" r="1.4" fill="none" stroke="#2ccad8" stroke-width="0.6"/>
<circle cx="436.50" cy="222.55" r="1.4" fill="none" stroke="#2ccad8" stroke-width="0.6"/>
<circle cx="378.80" cy="231.05" r="1.4" fill="none" stroke="#2ccad8" stroke-width="0.6"/>
<circle cx="407.60" cy="226.41" r="1.4" fill="none" stroke="#7ccb6c" stroke-width="0.6"/>
<circle cx="407.60" cy="230.28" r="1.4" fill="none" stroke="#7ccb6c" stroke-width="0.6"/>
<circle cx="436.50" cy="234.91" r="1.4" fill="none" stroke="#7ccb6c" stroke-width="0.6"/>
<circle cx="436.50" cy="227.96" r="1.4" fill="none" stroke="#7ccb6c" stroke-width="0.6"/>
<rect x="377.10" y="233.21" width="3.4" height="3.4" fill="#1a6ecf"/>
<rect x="377.10" y="231.67" width="3.4" height="3.4" fill="#1a6ecf"/>
<line x1="378.80" y1="231.82" x2="407.60" y2="191.65" stroke="#2a78d6" stroke-width="1.0" stroke-dasharray="3,1.6" />
<polyline points="407.60,191.65 436.50,187.79" fill="none" stroke="#2a78d6" stroke-width="1.0"/>
<rect x="377.10" y="230.12" width="3.4" height="3.4" fill="#1a6ecf"/>
<rect x="405.90" y="189.95" width="3.4" height="3.4" fill="#1a6ecf"/>
<rect x="434.80" y="186.09" width="3.4" height="3.4" fill="#1a6ecf"/>
<line x1="378.80" y1="231.82" x2="407.60" y2="229.50" stroke="#2ccad8" stroke-width="1.0" stroke-dasharray="3,1.6" />
<polyline points="407.60,229.50 436.50,221.00" fill="none" stroke="#2ccad8" stroke-width="1.0"/>
<rect x="377.10" y="230.12" width="3.4" height="3.4" fill="#12cad8"/>
<rect x="405.90" y="227.80" width="3.4" height="3.4" fill="#12cad8"/>
<rect x="434.80" y="219.31" width="3.4" height="3.4" fill="#12cad8"/>
<line x1="378.80" y1="231.82" x2="407.60" y2="228.73" stroke="#7ccb6c" stroke-width="1.0" stroke-dasharray="3,1.6" />
<polyline points="407.60,228.73 436.50,227.19" fill="none" stroke="#7ccb6c" stroke-width="1.0"/>
<rect x="377.10" y="230.12" width="3.4" height="3.4" fill="#66c456"/>
<rect x="405.90" y="227.03" width="3.4" height="3.4" fill="#66c456"/>
<rect x="434.80" y="225.49" width="3.4" height="3.4" fill="#66c456"/>
<text x="460.60" y="257.30" font-size="8.85" text-anchor="middle" fill="#000" >Concentration (nM)</text>
<line x1="471.60" y1="176.30" x2="558.90" y2="176.30" stroke="#6a6a6a" stroke-width="0.95" />
<line x1="558.90" y1="176.30" x2="558.90" y2="238.20" stroke="#6a6a6a" stroke-width="0.95" />
<line x1="471.60" y1="176.30" x2="471.60" y2="238.20" stroke="#555" stroke-width="0.95" />
<line x1="471.15" y1="238.20" x2="559.35" y2="238.20" stroke="#111" stroke-width="0.95" />
<line x1="471.60" y1="225.82" x2="473.20" y2="225.82" stroke="#333" stroke-width="0.6" />
<line x1="471.60" y1="213.44" x2="473.20" y2="213.44" stroke="#333" stroke-width="0.6" />
<line x1="471.60" y1="201.06" x2="473.20" y2="201.06" stroke="#333" stroke-width="0.6" />
<line x1="471.60" y1="188.68" x2="473.20" y2="188.68" stroke="#333" stroke-width="0.6" />
<line x1="515.20" y1="238.20" x2="515.20" y2="236.60" stroke="#333" stroke-width="0.6" />
<line x1="544.20" y1="238.20" x2="544.20" y2="236.60" stroke="#333" stroke-width="0.6" />
<text x="465.20" y="240.54" font-size="6.6" text-anchor="end" fill="#000" >0</text>
<text x="465.20" y="228.16" font-size="6.6" text-anchor="end" fill="#000" >0.2</text>
<text x="465.20" y="215.78" font-size="6.6" text-anchor="end" fill="#000" >0.4</text>
<text x="465.20" y="203.40" font-size="6.6" text-anchor="end" fill="#000" >0.6</text>
<text x="465.20" y="191.02" font-size="6.6" text-anchor="end" fill="#000" >0.8</text>
<text x="465.20" y="178.64" font-size="6.6" text-anchor="end" fill="#000" >1</text>
<text x="486.30" y="249.24" font-size="6.6" text-anchor="middle" fill="#000" >0</text>
<text x="515.20" y="249.24" font-size="6.6" text-anchor="middle" fill="#000" >4</text>
<text x="544.20" y="249.24" font-size="6.6" text-anchor="middle" fill="#000" >20</text>
<text x="455.60" y="170.30" font-size="8.2" text-anchor="start" fill="#000" font-weight="bold" >l</text>
<line x1="486.30" y1="238.20" x2="515.20" y2="182.49" stroke="#2a78d6" stroke-width="1.0" stroke-dasharray="3,1.6" />
<polyline points="515.20,182.49 544.20,177.23" fill="none" stroke="#2a78d6" stroke-width="1.0"/>
<rect x="484.60" y="236.50" width="3.4" height="3.4" fill="#1a6ecf"/>
<rect x="513.50" y="180.79" width="3.4" height="3.4" fill="#1a6ecf"/>
<rect x="542.50" y="175.53" width="3.4" height="3.4" fill="#1a6ecf"/>
<line x1="486.30" y1="238.20" x2="515.20" y2="234.80" stroke="#2ccad8" stroke-width="1.0" stroke-dasharray="3,1.6" />
<polyline points="515.20,234.80 544.20,232.94" fill="none" stroke="#2ccad8" stroke-width="1.0"/>
<rect x="484.60" y="236.50" width="3.4" height="3.4" fill="#12cad8"/>
<rect x="513.50" y="233.10" width="3.4" height="3.4" fill="#12cad8"/>
<rect x="542.50" y="231.24" width="3.4" height="3.4" fill="#12cad8"/>
<line x1="486.30" y1="238.20" x2="515.20" y2="237.70" stroke="#7ccb6c" stroke-width="1.0" stroke-dasharray="3,1.6" />
<polyline points="515.20,237.70 544.20,237.58" fill="none" stroke="#7ccb6c" stroke-width="1.0"/>
<rect x="484.60" y="236.50" width="3.4" height="3.4" fill="#66c456"/>
<rect x="513.50" y="236.00" width="3.4" height="3.4" fill="#66c456"/>
<rect x="542.50" y="235.88" width="3.4" height="3.4" fill="#66c456"/>
<line x1="594.30" y1="174.10" x2="681.40" y2="174.10" stroke="#6a6a6a" stroke-width="0.95" />
<line x1="681.40" y1="174.10" x2="681.40" y2="242.40" stroke="#6a6a6a" stroke-width="0.95" />
<line x1="594.30" y1="174.10" x2="594.30" y2="242.40" stroke="#555" stroke-width="0.95" />
<line x1="593.85" y1="242.40" x2="681.85" y2="242.40" stroke="#111" stroke-width="0.95" />
<line x1="594.30" y1="228.74" x2="595.90" y2="228.74" stroke="#333" stroke-width="0.6" />
<line x1="594.30" y1="215.08" x2="595.90" y2="215.08" stroke="#333" stroke-width="0.6" />
<line x1="594.30" y1="201.42" x2="595.90" y2="201.42" stroke="#333" stroke-width="0.6" />
<line x1="594.30" y1="187.76" x2="595.90" y2="187.76" stroke="#333" stroke-width="0.6" />
<text x="588.70" y="244.74" font-size="6.6" text-anchor="end" fill="#000" >0</text>
<text x="588.70" y="231.08" font-size="6.6" text-anchor="end" fill="#000" >0.1</text>
<text x="588.70" y="217.42" font-size="6.6" text-anchor="end" fill="#000" >0.2</text>
<text x="588.70" y="203.76" font-size="6.6" text-anchor="end" fill="#000" >0.3</text>
<text x="588.70" y="190.10" font-size="6.6" text-anchor="end" fill="#000" >0.4</text>
<text x="588.70" y="176.44" font-size="6.6" text-anchor="end" fill="#000" >0.5</text>
<rect x="603.10" y="198.00" width="12" height="44.40" fill="#fff" stroke="#555" stroke-width="0.7"/>
<rect x="632.20" y="226.69" width="12" height="15.71" fill="#fff" stroke="#555" stroke-width="0.7"/>
<rect x="661.20" y="195.96" width="12" height="46.44" fill="#fff" stroke="#555" stroke-width="0.7"/>
<circle cx="608.80" cy="189.81" r="1.2" fill="none" stroke="#222" stroke-width="0.6"/>
<circle cx="608.80" cy="198.69" r="1.2" fill="none" stroke="#222" stroke-width="0.6"/>
<circle cx="608.80" cy="200.05" r="1.2" fill="none" stroke="#222" stroke-width="0.6"/>
<circle cx="608.80" cy="201.42" r="1.2" fill="none" stroke="#222" stroke-width="0.6"/>
<circle cx="637.60" cy="219.86" r="1.2" fill="none" stroke="#222" stroke-width="0.6"/>
<circle cx="637.60" cy="222.59" r="1.2" fill="none" stroke="#222" stroke-width="0.6"/>
<circle cx="637.60" cy="234.89" r="1.2" fill="none" stroke="#222" stroke-width="0.6"/>
<circle cx="666.70" cy="194.59" r="1.2" fill="none" stroke="#222" stroke-width="0.6"/>
<circle cx="666.70" cy="195.96" r="1.2" fill="none" stroke="#222" stroke-width="0.6"/>
<circle cx="666.70" cy="198.69" r="1.2" fill="none" stroke="#222" stroke-width="0.6"/>
<line x1="607.00" y1="181.50" x2="665.70" y2="181.50" stroke="#333" stroke-width="0.9" />
<line x1="607.00" y1="194.50" x2="635.80" y2="194.50" stroke="#333" stroke-width="0.9" />
<line x1="636.60" y1="189.50" x2="665.20" y2="189.50" stroke="#333" stroke-width="0.9" />
<text x="637.50" y="179.70" font-size="6.9" text-anchor="middle" fill="#000" >ns</text>
<text x="621.20" y="196.30" font-size="8.2" text-anchor="middle" fill="#000" >***</text>
<text x="650.30" y="191.30" font-size="8.2" text-anchor="middle" fill="#000" >*</text>
<text x="609.10" y="252.94" font-size="6.6" text-anchor="middle" fill="#000" >-</text>
<text x="638.20" y="252.94" font-size="6.6" text-anchor="middle" fill="#000" >CORT</text>
<text x="667.20" y="252.94" font-size="6.6" text-anchor="middle" fill="#000" >FK</text>
<text transform="translate(572.60,209.80) rotate(-90)" x="0" y="0" font-size="8.85" text-anchor="middle" fill="#000" >Phase (rad/2&#960;)</text>
<text x="566.60" y="170.30" font-size="8.2" text-anchor="start" fill="#000" font-weight="bold" >m</text>
<line x1="366.30" y1="272.60" x2="446.30" y2="272.60" stroke="#6a6a6a" stroke-width="0.95" />
<line x1="446.30" y1="272.60" x2="446.30" y2="341.00" stroke="#6a6a6a" stroke-width="0.95" />
<line x1="366.30" y1="272.60" x2="366.30" y2="341.00" stroke="#555" stroke-width="0.95" />
<line x1="365.85" y1="341.00" x2="446.75" y2="341.00" stroke="#111" stroke-width="0.95" />
<line x1="366.30" y1="327.32" x2="367.90" y2="327.32" stroke="#333" stroke-width="0.6" />
<line x1="366.30" y1="313.64" x2="367.90" y2="313.64" stroke="#333" stroke-width="0.6" />
<line x1="366.30" y1="299.96" x2="367.90" y2="299.96" stroke="#333" stroke-width="0.6" />
<line x1="366.30" y1="286.28" x2="367.90" y2="286.28" stroke="#333" stroke-width="0.6" />
<line x1="390.05" y1="341.00" x2="390.05" y2="339.40" stroke="#333" stroke-width="0.6" />
<line x1="405.90" y1="341.00" x2="405.90" y2="339.40" stroke="#333" stroke-width="0.6" />
<line x1="421.75" y1="341.00" x2="421.75" y2="339.40" stroke="#333" stroke-width="0.6" />
<line x1="437.60" y1="341.00" x2="437.60" y2="339.40" stroke="#333" stroke-width="0.6" />
<text x="360.30" y="343.34" font-size="6.6" text-anchor="end" fill="#000" >0</text>
<text x="360.30" y="329.66" font-size="6.6" text-anchor="end" fill="#000" >0.1</text>
<text x="360.30" y="315.98" font-size="6.6" text-anchor="end" fill="#000" >0.2</text>
<text x="360.30" y="302.30" font-size="6.6" text-anchor="end" fill="#000" >0.3</text>
<text x="360.30" y="288.62" font-size="6.6" text-anchor="end" fill="#000" >0.4</text>
<text x="360.30" y="274.94" font-size="6.6" text-anchor="end" fill="#000" >0.5</text>
<text x="374.20" y="351.84" font-size="6.6" text-anchor="middle" fill="#000" >0</text>
<text x="390.05" y="351.84" font-size="6.6" text-anchor="middle" fill="#000" >62.5</text>
<text x="405.90" y="351.84" font-size="6.6" text-anchor="middle" fill="#000" >125</text>
<text x="421.75" y="351.84" font-size="6.6" text-anchor="middle" fill="#000" >250</text>
<text x="437.60" y="351.84" font-size="6.6" text-anchor="middle" fill="#000" >500</text>
<text x="442.80" y="270.90" font-size="6.7" text-anchor="end" fill="#2ccad8" >BK:MF, ADD:DEX</text>
<text x="438.40" y="279.30" font-size="6.7" text-anchor="end" fill="#2a78d6" >BK: -, ADD:MF</text>
<text x="442.80" y="287.60" font-size="6.7" text-anchor="end" fill="#7ccb6c" >BK:DEX, ADD:MF</text>
<text x="335.80" y="268.00" font-size="8.2" text-anchor="start" fill="#000" font-weight="bold" >n</text>
<text transform="translate(342.10,307.80) rotate(-90)" x="0" y="0" font-size="8.85" text-anchor="middle" fill="#000" >Amplitude (-)</text>
<text x="461.70" y="363.60" font-size="8.85" text-anchor="middle" fill="#000" >MF concentration (nM)</text>
<circle cx="374.20" cy="287.65" r="1.4" fill="none" stroke="#2ccad8" stroke-width="0.6"/>
<circle cx="374.20" cy="298.59" r="1.4" fill="none" stroke="#2ccad8" stroke-width="0.6"/>
<circle cx="405.90" cy="294.49" r="1.4" fill="none" stroke="#2ccad8" stroke-width="0.6"/>
<circle cx="405.90" cy="309.54" r="1.4" fill="none" stroke="#2ccad8" stroke-width="0.6"/>
<circle cx="405.90" cy="312.27" r="1.4" fill="none" stroke="#2ccad8" stroke-width="0.6"/>
<circle cx="421.75" cy="306.80" r="1.4" fill="none" stroke="#2ccad8" stroke-width="0.6"/>
<circle cx="437.60" cy="316.38" r="1.4" fill="none" stroke="#2ccad8" stroke-width="0.6"/>
<circle cx="437.60" cy="319.11" r="1.4" fill="none" stroke="#2ccad8" stroke-width="0.6"/>
<circle cx="390.05" cy="302.70" r="1.4" fill="none" stroke="#2ccad8" stroke-width="0.6"/>
<circle cx="374.20" cy="330.74" r="1.4" fill="none" stroke="#2a78d6" stroke-width="0.6"/>
<circle cx="374.20" cy="341.00" r="1.4" fill="none" stroke="#2a78d6" stroke-width="0.6"/>
<circle cx="390.05" cy="332.79" r="1.4" fill="none" stroke="#2a78d6" stroke-width="0.6"/>
<circle cx="405.90" cy="330.06" r="1.4" fill="none" stroke="#2a78d6" stroke-width="0.6"/>
<circle cx="421.75" cy="330.74" r="1.4" fill="none" stroke="#2a78d6" stroke-width="0.6"/>
<circle cx="437.60" cy="330.74" r="1.4" fill="none" stroke="#2a78d6" stroke-width="0.6"/>
<circle cx="374.20" cy="334.16" r="1.4" fill="none" stroke="#7ccb6c" stroke-width="0.6"/>
<circle cx="390.05" cy="336.90" r="1.4" fill="none" stroke="#7ccb6c" stroke-width="0.6"/>
<circle cx="405.90" cy="336.90" r="1.4" fill="none" stroke="#7ccb6c" stroke-width="0.6"/>
<circle cx="421.75" cy="323.90" r="1.4" fill="none" stroke="#7ccb6c" stroke-width="0.6"/>
<circle cx="421.75" cy="336.90" r="1.4" fill="none" stroke="#7ccb6c" stroke-width="0.6"/>
<circle cx="437.60" cy="324.58" r="1.4" fill="none" stroke="#7ccb6c" stroke-width="0.6"/>
<line x1="374.20" y1="296.54" x2="390.05" y2="303.38" stroke="#2ccad8" stroke-width="1.0" stroke-dasharray="3,1.6" />
<polyline points="390.05,303.38 405.90,305.43 421.75,308.17 437.60,317.47" fill="none" stroke="#2ccad8" stroke-width="1.0"/>
<rect x="372.45" y="294.79" width="3.5" height="3.5" fill="#12cad8" stroke="#2b3b3b" stroke-width="0.6"/>
<rect x="388.30" y="301.63" width="3.5" height="3.5" fill="#12cad8" stroke="#2b3b3b" stroke-width="0.6"/>
<rect x="404.15" y="303.68" width="3.5" height="3.5" fill="#12cad8" stroke="#2b3b3b" stroke-width="0.6"/>
<rect x="420.00" y="306.42" width="3.5" height="3.5" fill="#12cad8" stroke="#2b3b3b" stroke-width="0.6"/>
<rect x="435.85" y="315.72" width="3.5" height="3.5" fill="#12cad8" stroke="#2b3b3b" stroke-width="0.6"/>
<line x1="374.20" y1="336.90" x2="390.05" y2="332.11" stroke="#2a78d6" stroke-width="1.0" stroke-dasharray="3,1.6" />
<polyline points="390.05,332.11 405.90,331.42 421.75,330.74 437.60,331.42" fill="none" stroke="#2a78d6" stroke-width="1.0"/>
<rect x="372.45" y="335.15" width="3.5" height="3.5" fill="#1a6ecf" stroke="#2b3b3b" stroke-width="0.6"/>
<rect x="388.30" y="330.36" width="3.5" height="3.5" fill="#1a6ecf" stroke="#2b3b3b" stroke-width="0.6"/>
<rect x="404.15" y="329.67" width="3.5" height="3.5" fill="#1a6ecf" stroke="#2b3b3b" stroke-width="0.6"/>
<rect x="420.00" y="328.99" width="3.5" height="3.5" fill="#1a6ecf" stroke="#2b3b3b" stroke-width="0.6"/>
<rect x="435.85" y="329.67" width="3.5" height="3.5" fill="#1a6ecf" stroke="#2b3b3b" stroke-width="0.6"/>
<line x1="374.20" y1="334.84" x2="390.05" y2="336.08" stroke="#7ccb6c" stroke-width="1.0" stroke-dasharray="3,1.6" />
<polyline points="390.05,336.08 405.90,336.08 421.75,330.74 437.60,326.36" fill="none" stroke="#7ccb6c" stroke-width="1.0"/>
<rect x="372.45" y="333.09" width="3.5" height="3.5" fill="#66c456" stroke="#2b3b3b" stroke-width="0.6"/>
<rect x="388.30" y="334.33" width="3.5" height="3.5" fill="#66c456" stroke="#2b3b3b" stroke-width="0.6"/>
<rect x="404.15" y="334.33" width="3.5" height="3.5" fill="#66c456" stroke="#2b3b3b" stroke-width="0.6"/>
<rect x="420.00" y="328.99" width="3.5" height="3.5" fill="#66c456" stroke="#2b3b3b" stroke-width="0.6"/>
<rect x="435.85" y="324.61" width="3.5" height="3.5" fill="#66c456" stroke="#2b3b3b" stroke-width="0.6"/>
<line x1="477.60" y1="272.40" x2="557.50" y2="272.40" stroke="#6a6a6a" stroke-width="0.95" />
<line x1="557.50" y1="272.40" x2="557.50" y2="341.00" stroke="#6a6a6a" stroke-width="0.95" />
<line x1="477.60" y1="272.40" x2="477.60" y2="341.00" stroke="#555" stroke-width="0.95" />
<line x1="477.15" y1="341.00" x2="557.95" y2="341.00" stroke="#111" stroke-width="0.95" />
<line x1="477.60" y1="327.28" x2="479.20" y2="327.28" stroke="#333" stroke-width="0.6" />
<line x1="477.60" y1="313.56" x2="479.20" y2="313.56" stroke="#333" stroke-width="0.6" />
<line x1="477.60" y1="299.84" x2="479.20" y2="299.84" stroke="#333" stroke-width="0.6" />
<line x1="477.60" y1="286.12" x2="479.20" y2="286.12" stroke="#333" stroke-width="0.6" />
<line x1="501.58" y1="341.00" x2="501.58" y2="339.40" stroke="#333" stroke-width="0.6" />
<line x1="517.56" y1="341.00" x2="517.56" y2="339.40" stroke="#333" stroke-width="0.6" />
<line x1="533.54" y1="341.00" x2="533.54" y2="339.40" stroke="#333" stroke-width="0.6" />
<line x1="549.52" y1="341.00" x2="549.52" y2="339.40" stroke="#333" stroke-width="0.6" />
<text x="471.00" y="343.34" font-size="6.6" text-anchor="end" fill="#000" >0</text>
<text x="471.00" y="329.62" font-size="6.6" text-anchor="end" fill="#000" >0.2</text>
<text x="471.00" y="315.90" font-size="6.6" text-anchor="end" fill="#000" >0.4</text>
<text x="471.00" y="302.18" font-size="6.6" text-anchor="end" fill="#000" >0.6</text>
<text x="471.00" y="288.46" font-size="6.6" text-anchor="end" fill="#000" >0.8</text>
<text x="471.00" y="274.74" font-size="6.6" text-anchor="end" fill="#000" >1</text>
<text x="485.60" y="351.34" font-size="6.6" text-anchor="middle" fill="#000" >0</text>
<text x="501.58" y="351.34" font-size="6.6" text-anchor="middle" fill="#000" >62.5</text>
<text x="517.56" y="351.34" font-size="6.6" text-anchor="middle" fill="#000" >125</text>
<text x="533.54" y="351.34" font-size="6.6" text-anchor="middle" fill="#000" >250</text>
<text x="549.52" y="351.34" font-size="6.6" text-anchor="middle" fill="#000" >500</text>
<text x="450.50" y="269.20" font-size="8.2" text-anchor="start" fill="#000" font-weight="bold" >o</text>
<text transform="translate(457.80,302.00) rotate(-90)" x="0" y="0" font-size="8.85" text-anchor="middle" fill="#000" >Phase (rad/2&#960;)</text>
<circle cx="485.60" cy="291.61" r="1.4" fill="none" stroke="#2ccad8" stroke-width="0.6"/>
<circle cx="533.54" cy="286.81" r="1.4" fill="none" stroke="#2ccad8" stroke-width="0.6"/>
<circle cx="533.54" cy="291.61" r="1.4" fill="none" stroke="#2ccad8" stroke-width="0.6"/>
<circle cx="549.52" cy="288.86" r="1.4" fill="none" stroke="#2ccad8" stroke-width="0.6"/>
<circle cx="549.52" cy="295.04" r="1.4" fill="none" stroke="#2ccad8" stroke-width="0.6"/>
<circle cx="501.58" cy="286.81" r="1.4" fill="none" stroke="#2ccad8" stroke-width="0.6"/>
<circle cx="485.60" cy="317.68" r="1.4" fill="none" stroke="#7ccb6c" stroke-width="0.6"/>
<circle cx="485.60" cy="323.85" r="1.4" fill="none" stroke="#7ccb6c" stroke-width="0.6"/>
<circle cx="501.58" cy="306.01" r="1.4" fill="none" stroke="#7ccb6c" stroke-width="0.6"/>
<circle cx="501.58" cy="323.16" r="1.4" fill="none" stroke="#7ccb6c" stroke-width="0.6"/>
<circle cx="517.56" cy="323.16" r="1.4" fill="none" stroke="#7ccb6c" stroke-width="0.6"/>
<circle cx="517.56" cy="334.14" r="1.4" fill="none" stroke="#7ccb6c" stroke-width="0.6"/>
<circle cx="533.54" cy="321.79" r="1.4" fill="none" stroke="#7ccb6c" stroke-width="0.6"/>
<circle cx="533.54" cy="330.02" r="1.4" fill="none" stroke="#7ccb6c" stroke-width="0.6"/>
<circle cx="549.52" cy="324.54" r="1.4" fill="none" stroke="#7ccb6c" stroke-width="0.6"/>
<circle cx="549.52" cy="332.08" r="1.4" fill="none" stroke="#7ccb6c" stroke-width="0.6"/>
<rect x="483.85" y="287.80" width="3.5" height="3.5" fill="#12cad8" stroke="#2b3b3b" stroke-width="0.6"/>
<rect x="499.83" y="286.43" width="3.5" height="3.5" fill="#12cad8" stroke="#2b3b3b" stroke-width="0.6"/>
<rect x="515.81" y="287.80" width="3.5" height="3.5" fill="#12cad8" stroke="#2b3b3b" stroke-width="0.6"/>
<rect x="531.79" y="288.14" width="3.5" height="3.5" fill="#12cad8" stroke="#2b3b3b" stroke-width="0.6"/>
<rect x="547.77" y="290.54" width="3.5" height="3.5" fill="#12cad8" stroke="#2b3b3b" stroke-width="0.6"/>
<rect x="483.85" y="317.98" width="3.5" height="3.5" fill="#66c456" stroke="#2b3b3b" stroke-width="0.6"/>
<rect x="499.83" y="313.87" width="3.5" height="3.5" fill="#66c456" stroke="#2b3b3b" stroke-width="0.6"/>
<rect x="515.81" y="326.56" width="3.5" height="3.5" fill="#66c456" stroke="#2b3b3b" stroke-width="0.6"/>
<rect x="531.79" y="324.50" width="3.5" height="3.5" fill="#66c456" stroke="#2b3b3b" stroke-width="0.6"/>
<rect x="547.77" y="326.22" width="3.5" height="3.5" fill="#66c456" stroke="#2b3b3b" stroke-width="0.6"/>
<line x1="593.40" y1="271.30" x2="679.50" y2="271.30" stroke="#6a6a6a" stroke-width="0.95" />
<line x1="679.50" y1="271.30" x2="679.50" y2="343.50" stroke="#6a6a6a" stroke-width="0.95" />
<line x1="593.40" y1="271.30" x2="593.40" y2="343.50" stroke="#555" stroke-width="0.95" />
<line x1="592.95" y1="343.50" x2="679.95" y2="343.50" stroke="#111" stroke-width="0.95" />
<line x1="593.40" y1="329.06" x2="595.00" y2="329.06" stroke="#333" stroke-width="0.6" />
<line x1="593.40" y1="314.62" x2="595.00" y2="314.62" stroke="#333" stroke-width="0.6" />
<line x1="593.40" y1="300.18" x2="595.00" y2="300.18" stroke="#333" stroke-width="0.6" />
<line x1="593.40" y1="285.74" x2="595.00" y2="285.74" stroke="#333" stroke-width="0.6" />
<line x1="614.92" y1="343.50" x2="614.92" y2="341.90" stroke="#333" stroke-width="0.6" />
<line x1="636.45" y1="343.50" x2="636.45" y2="341.90" stroke="#333" stroke-width="0.6" />
<line x1="657.98" y1="343.50" x2="657.98" y2="341.90" stroke="#333" stroke-width="0.6" />
<text x="586.80" y="345.84" font-size="6.6" text-anchor="end" fill="#000" >0</text>
<text x="586.80" y="331.40" font-size="6.6" text-anchor="end" fill="#000" >0.2</text>
<text x="586.80" y="316.96" font-size="6.6" text-anchor="end" fill="#000" >0.4</text>
<text x="586.80" y="302.52" font-size="6.6" text-anchor="end" fill="#000" >0.6</text>
<text x="586.80" y="288.08" font-size="6.6" text-anchor="end" fill="#000" >0.8</text>
<text x="586.80" y="273.64" font-size="6.6" text-anchor="end" fill="#000" >1</text>
<text x="593.40" y="355.14" font-size="6.6" text-anchor="middle" fill="#000" >0</text>
<text x="614.92" y="355.14" font-size="6.6" text-anchor="middle" fill="#000" >0.1</text>
<text x="636.45" y="355.14" font-size="6.6" text-anchor="middle" fill="#000" >0.2</text>
<text x="657.98" y="355.14" font-size="6.6" text-anchor="middle" fill="#000" >0.3</text>
<text x="679.50" y="355.14" font-size="6.6" text-anchor="middle" fill="#000" >0.4</text>
<text x="567.80" y="268.20" font-size="8.2" text-anchor="start" fill="#000" font-weight="bold" >p</text>
<text transform="translate(573.00,307.30) rotate(-90)" x="0" y="0" font-size="8.85" text-anchor="middle" fill="#000" >Phase (rad/2&#960;)</text>
<text x="637.90" y="364.30" font-size="8.85" text-anchor="middle" fill="#000" >Amplitude (-)</text>
<circle cx="601.60" cy="275.50" r="1.2" fill="none" stroke="#ee1c1c" stroke-width="0.6"/>
<circle cx="600.20" cy="282.10" r="1.2" fill="none" stroke="#ee1c1c" stroke-width="0.6"/>
<circle cx="605.70" cy="282.10" r="1.2" fill="none" stroke="#ee1c1c" stroke-width="0.6"/>
<circle cx="618.10" cy="282.10" r="1.2" fill="none" stroke="#ee1c1c" stroke-width="0.6"/>
<circle cx="602.10" cy="296.00" r="1.2" fill="none" stroke="#ee1c1c" stroke-width="0.6"/>
<circle cx="606.50" cy="297.30" r="1.2" fill="none" stroke="#ee1c1c" stroke-width="0.6"/>
<circle cx="608.50" cy="293.50" r="1.2" fill="none" stroke="#ee1c1c" stroke-width="0.6"/>
<circle cx="656.30" cy="294.00" r="1.2" fill="none" stroke="#ee1c1c" stroke-width="0.6"/>
<circle cx="665.10" cy="292.60" r="1.2" fill="none" stroke="#ee1c1c" stroke-width="0.6"/>
<circle cx="630.60" cy="292.60" r="1.2" fill="none" stroke="#3a86d8" stroke-width="0.6"/>
<circle cx="645.20" cy="289.90" r="1.2" fill="none" stroke="#3a86d8" stroke-width="0.6"/>
<circle cx="649.90" cy="289.30" r="1.2" fill="none" stroke="#3a86d8" stroke-width="0.6"/>
<circle cx="653.50" cy="287.10" r="1.2" fill="none" stroke="#3a86d8" stroke-width="0.6"/>
<circle cx="665.10" cy="289.30" r="1.2" fill="none" stroke="#3a86d8" stroke-width="0.6"/>
<circle cx="597.40" cy="300.40" r="1.2" fill="none" stroke="#222" stroke-width="0.6"/>
<circle cx="604.30" cy="307.00" r="1.2" fill="none" stroke="#222" stroke-width="0.6"/>
<circle cx="618.10" cy="291.20" r="1.2" fill="none" stroke="#222" stroke-width="0.6"/>
<circle cx="641.60" cy="292.10" r="1.2" fill="none" stroke="#222" stroke-width="0.6"/>
<circle cx="611.20" cy="292.10" r="1.35" fill="#ee1c1c"/>
<circle cx="618.10" cy="294.00" r="1.35" fill="#ee1c1c"/>
<circle cx="633.30" cy="301.50" r="1.35" fill="#ee1c1c"/>
<circle cx="641.60" cy="295.40" r="1.35" fill="#ee1c1c"/>
<circle cx="648.50" cy="294.00" r="1.35" fill="#ee1c1c"/>
<circle cx="651.90" cy="293.20" r="1.35" fill="#ee1c1c"/>
<circle cx="657.40" cy="292.10" r="1.35" fill="#ee1c1c"/>
<circle cx="658.20" cy="294.00" r="1.35" fill="#ee1c1c"/>
<circle cx="665.70" cy="291.00" r="1.35" fill="#ee1c1c"/>
<circle cx="600.70" cy="284.90" r="1.35" fill="#000"/>
<circle cx="627.30" cy="294.80" r="1.35" fill="#000"/>
<rect x="638.9" y="300.4" width="37.8" height="40.6" fill="#fff" stroke="#444" stroke-width="0.7"/>
<circle cx="643.60" cy="304.50" r="1.35" fill="#000"/>
<text x="646.40" y="306.95" font-size="6.8" text-anchor="start" fill="#000" >DEX</text>
<circle cx="643.60" cy="312.45" r="1.2" fill="none" stroke="#222" stroke-width="0.6"/>
<text x="646.40" y="314.90" font-size="6.8" text-anchor="start" fill="#000" >CORT</text>
<circle cx="643.60" cy="320.40" r="1.35" fill="#ee1c1c"/>
<text x="646.40" y="322.85" font-size="6.8" text-anchor="start" fill="#000" >MIX</text>
<circle cx="643.60" cy="328.35" r="1.2" fill="none" stroke="#ee1c1c" stroke-width="0.6"/>
<text x="646.40" y="330.80" font-size="6.8" text-anchor="start" fill="#000" >BK (DEX)</text>
<circle cx="643.60" cy="336.30" r="1.2" fill="none" stroke="#3a86d8" stroke-width="0.6"/>
<text x="646.40" y="338.75" font-size="6.8" text-anchor="start" fill="#000" >BK (MF)</text>
</svg></body></html>
